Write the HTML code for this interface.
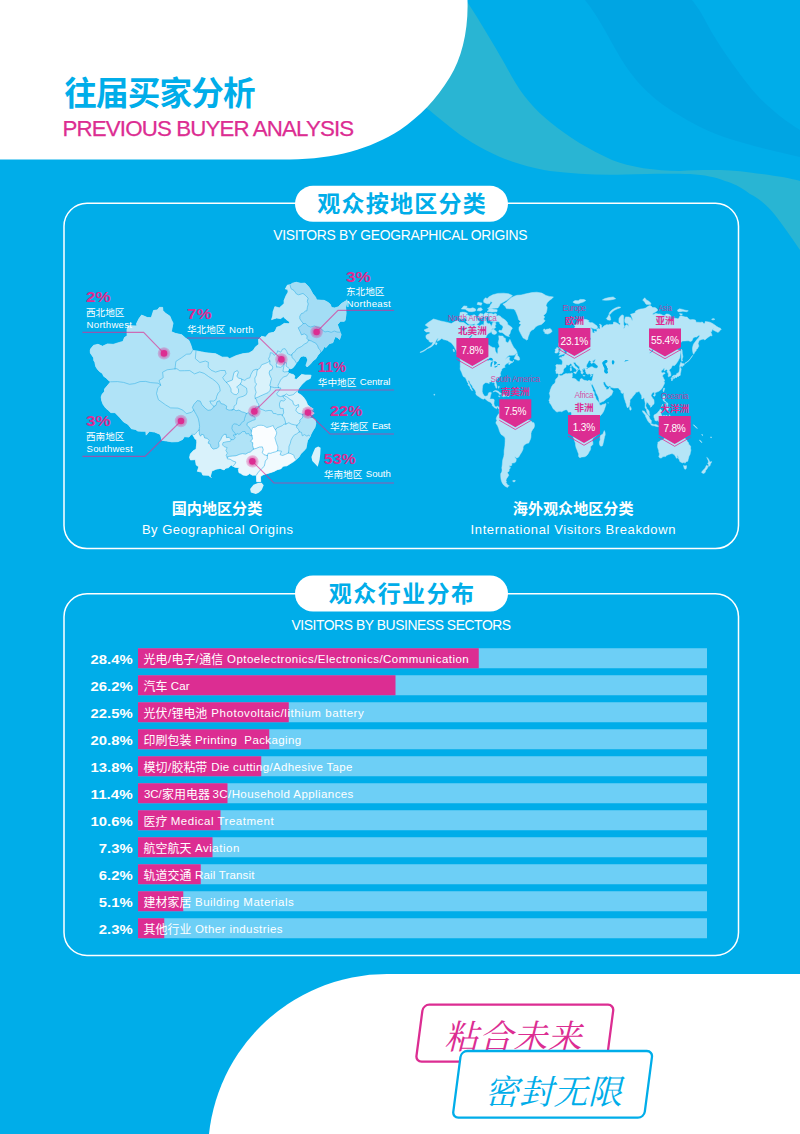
<!DOCTYPE html>
<html lang="zh"><head><meta charset="utf-8"><title>往届买家分析 Previous Buyer Analysis</title>
<style>
html,body{margin:0;padding:0;background:#00ade9;}
body{width:800px;height:1134px;overflow:hidden;font-family:"Liberation Sans","Noto Sans CJK SC",sans-serif;}
svg{display:block;font-family:"Liberation Sans","Noto Sans CJK SC",sans-serif;}
</style></head><body>
<svg width="800" height="1134" viewBox="0 0 800 1134">
<rect width="800" height="1134" fill="#00ade9"/>
<path fill="#00a5e3" d="M585,0 C600,18 612,45 625,65 C645,95 668,110 700,127 C725,140 770,150 800,157 L800,130 C780,118 760,100 750,87 C735,68 715,40 705,20 C700,10 695,4 692,0 Z"/>
<path fill="#29b5d3" d="M466,0 C474,12 480,22 486,32 C497,50 506,66 512,77 C522,95 535,110 550,122 C568,137 590,150 612,160 C630,167 655,171 680,171 C700,170 725,169 750,172.5 C770,175 790,178 800,181 L800,250 C792,238 784,227 775,215 C766,204 758,198 750,194 C740,186 732,183 725,181 C715,177 705,175 690,174 C675,173.5 650,173.5 625,174.5 C600,175.5 575,174 550,171 C530,168 515,163 500,157 C480,148 462,137 450,127 C440,119 432,112 425,107 Z"/>
<path fill="#fff" d="M0,0 H467.5 C468.5,30 462,58 450,77 C436,100 420,116 400,130 C370,149 335,159 290,159.5 H0 Z"/>
<path fill="#fff" d="M800,974 H387 A179,179 0 0 0 208,1153 H800 Z"/>
<text x="64.3" y="104.6" font-size="32.6" font-weight="700" fill="#00ade9" letter-spacing="-0.85">往届买家分析</text>
<text x="62.60" y="136.20" font-size="22.30" fill="#dc2d92" letter-spacing="-0.865" stroke="#dc2d92" stroke-width="0.25">PREVIOUS BUYER ANALYSIS</text>
<rect x="64" y="203.2" width="674.5" height="345.40000000000003" rx="23" ry="23" fill="none" stroke="#fff" stroke-width="1.5"/>
<rect x="64" y="593.8" width="674.5" height="361.6" rx="23" ry="23" fill="none" stroke="#fff" stroke-width="1.5"/>
<rect x="295" y="185.8" width="213" height="36" rx="18" fill="#fff"/>
<text x="317.19" y="211.97" font-size="23" font-weight="700" fill="#00ade9" letter-spacing="1.24">观众按地区分类</text>
<rect x="295" y="575.5" width="213" height="36" rx="18" fill="#fff"/>
<text x="328.84" y="601.66" font-size="23" font-weight="700" fill="#00ade9" letter-spacing="1.43">观众行业分布</text>
<text x="273.30" y="240.10" font-size="13.90" fill="#fff" letter-spacing="-0.304" >VISITORS BY GEOGRAPHICAL ORIGINS</text>
<text x="291.50" y="630.10" font-size="13.90" fill="#fff" letter-spacing="-0.444" >VISITORS BY BUSINESS SECTORS</text>
<g id="china"><path fill="#bde8f8" stroke="#bde8f8" stroke-width="0.6" stroke-linejoin="round" d="M90.6,349.1L93.5,345.4L98.0,344.3L102.5,346.3L107.4,344.0L113.2,344.4L119.6,342.4L123.0,341.5L124.5,337.6L127.2,335.8L127.0,329.7L128.4,325.8L136.9,326.0L136.6,323.5L139.0,318.7L141.6,315.1L147.2,317.5L151.3,317.7L153.6,310.5L157.3,310.0L159.4,307.4L162.6,307.4L162.8,310.4L165.2,313.1L169.9,316.2L171.4,319.9L173.0,323.1L171.3,331.7L175.7,333.5L181.8,334.8L185.6,338.2L188.8,340.3L190.9,345.2L192.5,350.6L196.0,350.9L201.5,351.9L205.8,352.8L215.7,353.8L222.2,357.2L227.4,357.2L229.6,358.7L236.1,355.7L242.6,353.8L249.1,353.0L253.3,350.4L255.2,347.3L258.9,344.2L258.5,339.5L261.7,336.3L265.5,337.2L268.9,333.3L273.8,332.3L275.6,330.3L276.9,327.2L280.1,326.2L284.2,323.4L289.2,323.8L289.8,322.0L285.7,319.1L283.3,316.5L280.7,318.5L276.6,317.9L271.6,319.6L272.8,316.0L273.1,311.9L274.9,306.7L279.3,307.9L282.1,305.5L284.2,303.5L284.1,300.6L286.1,295.7L288.2,292.0L287.7,289.2L285.4,289.0L287.4,285.2L290.0,284.8L292.7,283.2L296.2,282.3L300.9,283.4L305.0,283.2L308.4,286.5L310.1,289.0L312.7,293.7L315.5,297.2L316.6,299.9L321.0,300.3L324.3,300.4L328.1,302.5L330.2,304.3L331.5,307.6L334.5,308.0L338.3,306.9L341.5,303.6L345.7,301.1L347.0,299.8L346.4,304.6L345.6,307.3L346.1,313.2L345.2,320.1L344.3,321.3L340.3,321.2L338.7,323.2L337.4,324.7L338.9,328.6L340.1,332.2L341.1,334.7L339.6,339.4L337.4,337.5L335.3,336.5L333.6,340.3L332.9,342.6L329.1,343.8L326.0,347.5L324.4,346.4L322.5,350.1L320.5,352.3L317.8,355.3L315.8,358.7L313.0,360.7L310.6,363.8L308.4,365.8L307.0,366.9L306.0,365.3L306.6,363.4L307.8,359.9L306.3,356.5L303.3,356.0L300.9,356.5L299.4,358.7L297.7,361.5L296.3,362.9L294.7,365.6L292.7,367.9L291.0,368.8L289.1,368.4L288.4,369.7L287.7,371.6L288.7,373.3L291.3,374.1L293.2,374.5L294.8,376.0L294.1,378.8L296.3,379.4L298.3,377.6L301.6,374.4L305.0,375.1L308.7,375.1L311.1,375.3L310.2,378.4L306.3,380.3L303.8,382.5L301.4,385.0L298.6,388.7L297.5,391.2L297.6,393.0L301.0,394.9L303.3,397.0L305.9,400.8L307.5,404.7L310.4,407.2L313.2,408.9L310.7,410.5L314.2,413.2L311.3,415.5L309.7,417.8L312.8,418.5L315.1,419.6L315.8,423.7L314.9,427.4L312.4,431.4L310.8,434.6L310.3,436.4L307.5,440.4L306.9,443.5L306.0,448.3L303.7,451.0L300.8,453.7L299.0,456.9L296.1,459.6L293.6,461.6L286.9,465.8L283.0,466.2L281.0,468.7L277.2,469.7L274.0,471.4L268.6,473.2L263.1,474.7L260.4,476.6L260.7,481.7L256.7,481.7L256.4,475.1L252.5,475.2L249.6,473.6L248.0,474.8L246.4,475.5L243.0,475.0L240.7,473.3L239.0,472.7L238.4,469.3L239.5,467.8L235.1,467.3L232.9,466.2L231.2,465.0L228.5,467.6L225.7,468.2L224.1,469.9L220.2,468.4L215.8,469.2L213.8,470.3L211.9,470.8L210.3,476.5L211.4,477.4L208.4,475.3L202.8,475.1L201.6,472.1L197.4,471.3L198.8,466.8L196.2,464.9L195.4,459.6L190.5,459.9L189.6,457.5L190.4,454.0L193.3,450.7L196.1,449.2L196.8,442.8L196.7,439.8L195.2,439.1L192.9,434.9L191.9,434.2L190.2,435.3L189.0,437.0L184.4,436.6L182.6,439.4L178.1,441.6L171.7,441.8L166.5,440.9L161.8,440.3L161.2,437.0L160.0,434.2L154.6,432.0L149.4,431.2L146.2,435.1L145.8,431.2L142.1,431.2L137.4,431.0L136.0,429.5L131.4,428.7L128.1,424.4L123.4,421.7L119.6,417.3L115.0,412.6L110.8,412.6L108.7,410.5L105.7,408.0L103.1,404.3L101.7,400.6L101.2,397.0L102.2,394.2L104.4,391.8L104.6,389.1L107.7,385.3L110.7,381.8L108.5,380.3L106.2,378.0L103.7,376.2L102.5,373.5L99.3,371.3L97.3,368.9L95.8,366.6L94.9,362.3L93.8,360.4L93.7,357.9L92.1,355.5L90.4,353.1L90.3,350.6Z"/><path fill="#b0e3f7" stroke="#b0e3f7" stroke-width="0.4" stroke-linejoin="round" d="M90.6,349.1L93.5,345.4L98.0,344.3L102.5,346.3L107.4,344.0L113.2,344.4L119.6,342.4L123.0,341.5L124.5,337.6L127.2,335.8L127.0,329.7L128.4,325.8L136.9,326.0L136.6,323.5L139.0,318.7L141.6,315.1L147.2,317.5L151.3,317.7L153.6,310.5L157.3,310.0L159.4,307.4L162.6,307.4L162.8,310.4L165.2,313.1L169.9,316.2L171.4,319.9L173.0,323.1L171.3,331.7L175.7,333.5L181.8,334.8L185.6,338.2L188.8,340.3L190.9,345.2L192.5,350.6L190.5,354.0L186.5,354.2L181.3,357.9L175.9,361.4L175.0,368.8L167.1,369.8L162.6,372.2L163.2,377.7L159.0,380.6L160.7,385.1L158.1,383.2L150.6,382.6L145.6,381.4L140.0,381.6L134.6,383.6L129.5,384.3L123.6,382.4L117.5,381.6L110.7,381.8L108.5,380.3L106.2,378.0L103.7,376.2L102.5,373.5L99.3,371.3L97.3,368.9L95.8,366.6L94.9,362.3L93.8,360.4L93.7,357.9L92.1,355.5L90.4,353.1L90.3,350.6Z"/><path fill="#b0e3f7" stroke="#b0e3f7" stroke-width="0.4" stroke-linejoin="round" d="M191.9,434.2L190.2,435.3L189.0,437.0L184.4,436.6L182.6,439.4L178.1,441.6L171.7,441.8L166.5,440.9L161.8,440.3L161.2,437.0L160.0,434.2L154.6,432.0L149.4,431.2L146.2,435.1L145.8,431.2L142.1,431.2L137.4,431.0L136.0,429.5L131.4,428.7L128.1,424.4L123.4,421.7L119.6,417.3L115.0,412.6L110.8,412.6L108.7,410.5L105.7,408.0L103.1,404.3L101.7,400.6L101.2,397.0L102.2,394.2L104.4,391.8L104.6,389.1L107.7,385.3L110.7,381.8L117.5,381.6L123.6,382.4L129.5,384.3L134.6,383.6L140.0,381.6L145.6,381.4L150.6,382.6L158.1,383.2L160.7,385.1L157.9,387.7L156.5,393.5L158.4,399.7L165.6,404.9L170.6,407.9L178.0,408.1L182.8,410.1L186.4,413.7L191.5,412.3L193.7,410.1L196.3,414.5L198.1,418.1L199.1,422.3L199.6,426.5L199.1,430.0L197.2,431.6L195.0,434.4Z"/><path fill="#bde8f8" stroke="#bde8f8" stroke-width="0.4" stroke-linejoin="round" d="M160.7,385.1L159.0,380.6L163.2,377.7L162.6,372.2L167.1,369.8L175.0,368.8L176.9,368.7L179.8,370.8L184.4,370.7L189.8,370.6L194.6,373.9L199.7,371.9L204.2,373.4L208.6,376.6L212.6,379.1L216.6,382.2L218.9,385.2L219.8,388.2L220.2,391.2L218.2,392.9L216.7,396.4L216.1,399.4L213.7,401.1L209.8,401.0L211.2,404.0L214.0,406.4L213.0,407.9L210.9,409.9L208.0,410.4L205.1,408.2L201.9,404.7L200.2,401.1L197.3,400.6L194.1,404.2L192.4,407.4L193.7,410.1L191.5,412.3L186.4,413.7L182.8,410.1L178.0,408.1L170.6,407.9L165.6,404.9L158.4,399.7L156.5,393.5L157.9,387.7Z"/><path fill="#bde8f8" stroke="#bde8f8" stroke-width="0.4" stroke-linejoin="round" d="M192.5,350.6L196.0,350.9L195.3,358.6L199.9,362.5L205.3,361.0L208.4,362.3L208.1,367.1L211.1,370.2L215.6,372.1L220.6,370.5L225.1,370.5L226.0,373.5L222.7,377.6L224.1,380.0L226.4,382.4L229.1,385.4L231.0,388.9L231.0,391.9L233.9,394.2L236.3,394.8L238.6,392.4L238.5,388.8L236.6,387.1L240.3,384.0L243.1,385.8L246.5,388.0L247.1,392.1L246.2,394.6L243.0,396.4L240.1,397.1L237.3,398.3L236.8,401.3L236.4,404.3L234.0,406.1L234.0,408.4L232.1,409.9L229.1,410.2L226.2,409.0L226.7,406.1L223.8,404.3L220.9,403.6L219.5,400.7L217.0,401.8L216.0,405.3L214.0,406.4L211.2,404.0L209.8,401.0L213.7,401.1L216.1,399.4L216.7,396.4L218.2,392.9L220.2,391.2L219.8,388.2L218.9,385.2L216.6,382.2L212.6,379.1L208.6,376.6L204.2,373.4L199.7,371.9L194.6,373.9L189.8,370.6L184.4,370.7L179.8,370.8L176.9,368.7L175.0,368.8L175.9,361.4L181.3,357.9L186.5,354.2L190.5,354.0Z"/><path fill="#d9f2fb" stroke="#d9f2fb" stroke-width="0.4" stroke-linejoin="round" d="M240.3,384.0L236.6,387.1L238.5,388.8L238.6,392.4L236.3,394.8L233.9,394.2L231.0,391.9L231.0,388.9L229.1,385.4L226.4,382.4L229.1,381.2L232.4,380.0L233.2,375.9L234.1,372.3L237.3,370.5L238.4,372.2L236.9,376.4L238.8,378.2L241.1,378.7L241.8,379.3L241.6,381.6Z"/><path fill="#bde8f8" stroke="#bde8f8" stroke-width="0.4" stroke-linejoin="round" d="M196.0,350.9L201.5,351.9L205.8,352.8L215.7,353.8L222.2,357.2L227.4,357.2L229.6,358.7L236.1,355.7L242.6,353.8L249.1,353.0L253.3,350.4L255.2,347.3L258.9,344.2L258.5,339.5L261.7,336.3L265.5,337.2L268.9,333.3L273.8,332.3L275.6,330.3L276.9,327.2L280.1,326.2L284.2,323.4L289.2,323.8L289.8,322.0L285.7,319.1L283.3,316.5L280.7,318.5L276.6,317.9L271.6,319.6L272.8,316.0L273.1,311.9L274.9,306.7L279.3,307.9L282.1,305.5L284.2,303.5L284.1,300.6L286.1,295.7L288.2,292.0L287.7,289.2L285.4,289.0L287.4,285.2L290.0,284.8L291.0,288.7L294.0,290.5L296.5,294.0L298.6,294.8L303.0,293.4L305.3,295.3L308.2,298.2L307.3,301.3L308.3,304.0L307.4,307.2L306.9,310.8L305.3,311.1L303.3,313.0L301.4,313.6L299.8,316.2L299.8,318.6L301.1,320.7L303.3,323.6L302.2,324.7L300.8,326.1L298.2,327.8L300.1,331.6L301.5,334.9L304.3,333.8L307.2,335.7L306.9,338.4L308.6,340.2L307.3,342.6L304.1,344.3L301.4,346.6L298.6,347.9L296.2,349.5L294.8,351.8L292.8,353.0L291.7,354.9L290.4,355.1L287.6,353.7L286.8,351.4L285.1,348.7L282.6,349.0L280.8,352.2L277.6,350.8L277.0,353.2L274.1,355.3L272.6,353.1L270.4,352.7L269.8,356.3L268.5,358.8L269.8,361.0L267.7,362.4L265.1,363.5L261.7,364.7L259.7,368.4L257.3,369.7L256.1,369.2L253.1,370.5L251.0,374.2L249.8,377.8L247.0,378.5L244.8,380.4L241.8,379.3L241.1,378.7L238.8,378.2L236.9,376.4L238.4,372.2L237.3,370.5L234.1,372.3L233.2,375.9L232.4,380.0L229.1,381.2L226.4,382.4L224.1,380.0L222.7,377.6L226.0,373.5L225.1,370.5L220.6,370.5L215.6,372.1L211.1,370.2L208.1,367.1L208.4,362.3L205.3,361.0L199.9,362.5L195.3,358.6Z"/><path fill="#cbedfa" stroke="#cbedfa" stroke-width="0.4" stroke-linejoin="round" d="M232.1,409.9L234.0,408.4L234.0,406.1L236.4,404.3L236.8,401.3L237.3,398.3L240.1,397.1L243.0,396.4L246.2,394.6L247.1,392.1L246.5,388.0L243.1,385.8L240.3,384.0L241.6,381.6L241.8,379.3L244.8,380.4L247.0,378.5L249.8,377.8L251.0,374.2L253.1,370.5L256.1,369.2L257.3,369.7L256.8,372.1L256.5,375.1L254.8,378.2L255.1,382.3L256.6,384.0L254.9,387.1L255.2,389.1L256.1,392.3L254.9,396.0L255.3,398.3L256.6,400.0L257.2,402.4L258.7,404.0L258.9,406.4L255.5,407.2L254.9,410.2L251.8,411.5L253.4,414.1L252.5,415.5L251.0,415.1L248.4,412.8L246.4,413.5L244.4,412.4L241.9,411.9L238.9,410.1L236.0,410.8L234.0,409.3Z"/><path fill="#d9f2fb" stroke="#d9f2fb" stroke-width="0.4" stroke-linejoin="round" d="M255.3,398.3L254.9,396.0L256.1,392.3L255.2,389.1L254.9,387.1L256.6,384.0L255.1,382.3L254.8,378.2L256.5,375.1L256.8,372.1L257.3,369.7L259.7,368.4L261.7,364.7L265.1,363.5L267.7,362.4L269.8,361.0L269.9,364.3L272.1,365.6L272.7,367.6L272.0,369.8L269.8,370.6L269.1,373.0L270.1,375.9L271.5,378.7L270.8,381.2L270.3,383.6L269.8,385.4L270.6,386.8L270.2,390.2L268.0,392.7L265.3,393.8L262.9,394.9L260.6,395.9L258.3,397.0Z"/><path fill="#bde8f8" stroke="#bde8f8" stroke-width="0.4" stroke-linejoin="round" d="M296.3,362.9L294.7,365.6L292.7,367.9L291.0,368.8L289.1,368.4L286.1,366.1L286.6,362.8L284.7,362.1L284.7,362.3L283.5,359.6L279.7,358.0L277.4,361.5L276.2,364.6L276.7,366.9L278.5,367.0L280.4,367.4L282.5,366.3L284.6,362.7L284.0,365.5L283.3,369.2L282.9,371.3L284.6,372.0L287.7,371.6L288.7,373.3L286.9,375.9L283.8,376.9L281.7,378.6L280.5,380.2L279.3,382.7L278.0,385.3L278.5,387.6L276.6,387.5L274.7,387.7L272.8,387.2L270.6,386.8L269.8,385.4L270.3,383.6L270.8,381.2L271.5,378.7L270.1,375.9L269.1,373.0L269.8,370.6L272.0,369.8L272.7,367.6L272.1,365.6L269.9,364.3L269.8,361.0L268.5,358.8L269.8,356.3L270.4,352.7L272.6,353.1L274.1,355.3L277.0,353.2L277.6,350.8L280.8,352.2L282.6,349.0L285.1,348.7L286.8,351.4L287.6,353.7L290.4,355.1L291.7,354.9L292.2,357.9L294.2,359.4Z"/><path fill="#cbedfa" stroke="#cbedfa" stroke-width="0.4" stroke-linejoin="round" d="M276.7,366.9L276.2,364.6L277.4,361.5L279.7,358.0L283.5,359.6L284.7,362.3L284.6,362.7L282.5,366.3L280.4,367.4L278.5,367.0Z"/><path fill="#cbedfa" stroke="#cbedfa" stroke-width="0.4" stroke-linejoin="round" d="M289.1,368.4L288.4,369.7L287.7,371.6L284.6,372.0L282.9,371.3L283.3,369.2L284.0,365.5L284.6,362.7L284.7,362.4L284.7,362.3L284.7,362.1L286.6,362.8L286.1,366.1Z"/><path fill="#cbedfa" stroke="#cbedfa" stroke-width="0.4" stroke-linejoin="round" d="M288.7,373.3L291.3,374.1L293.2,374.5L294.8,376.0L294.1,378.8L296.3,379.4L298.3,377.6L301.6,374.4L305.0,375.1L308.7,375.1L311.1,375.3L310.2,378.4L306.3,380.3L303.8,382.5L301.4,385.0L298.6,388.7L297.5,391.2L295.7,392.1L294.1,394.1L292.3,394.9L289.0,395.6L286.3,393.9L284.1,395.6L283.0,396.0L280.4,396.6L277.9,395.7L276.7,393.7L278.4,391.5L280.9,388.2L278.5,387.6L278.0,385.3L279.3,382.7L280.5,380.2L281.7,378.6L283.8,376.9L286.9,375.9Z"/><path fill="#bde8f8" stroke="#bde8f8" stroke-width="0.4" stroke-linejoin="round" d="M258.9,406.4L258.7,404.0L257.2,402.4L256.6,400.0L255.3,398.3L258.3,397.0L260.6,395.9L262.9,394.9L265.3,393.8L268.0,392.7L270.2,390.2L270.6,386.8L272.8,387.2L274.7,387.7L276.6,387.5L278.5,387.6L280.9,388.2L278.4,391.5L276.7,393.7L277.9,395.7L280.4,396.6L283.0,396.0L283.4,397.5L285.6,399.3L283.8,401.0L280.8,400.5L279.6,403.0L279.4,405.1L280.2,408.3L283.2,408.5L283.7,412.9L282.4,415.1L280.3,414.5L277.4,414.8L276.3,413.7L273.2,413.4L272.0,410.8L269.0,410.4L265.6,411.0L262.5,409.7L260.3,409.0Z"/><path fill="#b0e3f7" stroke="#b0e3f7" stroke-width="0.4" stroke-linejoin="round" d="M320.5,352.3L317.8,355.3L315.8,358.7L313.0,360.7L310.6,363.8L308.4,365.8L307.0,366.9L306.0,365.3L306.6,363.4L307.8,359.9L306.3,356.5L303.3,356.0L300.9,356.5L299.4,358.7L297.7,361.5L296.3,362.9L294.2,359.4L292.2,357.9L291.7,354.9L292.8,353.0L294.8,351.8L296.2,349.5L298.6,347.9L301.4,346.6L304.1,344.3L307.3,342.6L308.6,340.2L311.3,340.9L312.8,341.8L315.7,343.1L317.6,345.7L318.6,348.5L320.3,350.0Z"/><path fill="#9fd9f4" stroke="#9fd9f4" stroke-width="0.4" stroke-linejoin="round" d="M340.1,332.2L341.1,334.7L339.6,339.4L337.4,337.5L335.3,336.5L333.6,340.3L332.9,342.6L329.1,343.8L326.0,347.5L324.4,346.4L322.5,350.1L320.5,352.3L320.3,350.0L318.6,348.5L317.6,345.7L315.7,343.1L312.8,341.8L311.3,340.9L308.6,340.2L306.9,338.4L307.2,335.7L304.3,333.8L301.5,334.9L300.1,331.6L298.2,327.8L300.8,326.1L302.2,324.7L303.3,323.6L305.7,323.5L307.9,326.0L310.6,327.0L314.6,325.9L317.5,327.4L320.2,328.0L321.9,329.7L325.0,332.0L327.9,331.3L331.2,332.4L334.3,331.0L337.2,332.1Z"/><path fill="#a3ddf5" stroke="#a3ddf5" stroke-width="0.4" stroke-linejoin="round" d="M290.0,284.8L292.7,283.2L296.2,282.3L300.9,283.4L305.0,283.2L308.4,286.5L310.1,289.0L312.7,293.7L315.5,297.2L316.6,299.9L321.0,300.3L324.3,300.4L328.1,302.5L330.2,304.3L331.5,307.6L334.5,308.0L338.3,306.9L341.5,303.6L345.7,301.1L347.0,299.8L346.4,304.6L345.6,307.3L346.1,313.2L345.2,320.1L344.3,321.3L340.3,321.2L338.7,323.2L337.4,324.7L338.9,328.6L340.1,332.2L337.2,332.1L334.3,331.0L331.2,332.4L327.9,331.3L325.0,332.0L321.9,329.7L320.2,328.0L317.5,327.4L314.6,325.9L310.6,327.0L307.9,326.0L305.7,323.5L303.3,323.6L301.1,320.7L299.8,318.6L299.8,316.2L301.4,313.6L303.3,313.0L305.3,311.1L306.9,310.8L307.4,307.2L308.3,304.0L307.3,301.3L308.2,298.2L305.3,295.3L303.0,293.4L298.6,294.8L296.5,294.0L294.0,290.5L291.0,288.7Z"/><path fill="#d9f2fb" stroke="#d9f2fb" stroke-width="0.4" stroke-linejoin="round" d="M297.5,391.2L297.6,393.0L301.0,394.9L303.3,397.0L305.9,400.8L307.5,404.7L310.4,407.2L313.2,408.9L310.7,410.5L309.7,412.1L309.0,414.0L307.1,414.9L306.1,414.5L304.2,413.9L302.5,414.4L300.4,413.8L298.3,413.2L295.9,410.6L296.5,408.1L298.8,406.6L298.5,404.5L295.7,405.8L293.5,404.3L292.6,400.9L290.0,399.4L287.2,397.1L284.1,395.6L286.3,393.9L289.0,395.6L292.3,394.9L294.1,394.1L295.7,392.1Z"/><path fill="#d9f2fb" stroke="#d9f2fb" stroke-width="0.4" stroke-linejoin="round" d="M310.7,410.5L314.2,413.2L311.3,415.5L309.7,414.8L309.0,414.0L309.7,412.1Z"/><path fill="#cbedfa" stroke="#cbedfa" stroke-width="0.4" stroke-linejoin="round" d="M283.0,396.0L284.1,395.6L287.2,397.1L290.0,399.4L292.6,400.9L293.5,404.3L295.7,405.8L298.5,404.5L298.8,406.6L296.5,408.1L295.9,410.6L298.3,413.2L300.4,413.8L302.5,414.4L302.9,417.0L301.4,418.8L299.8,420.2L300.0,421.9L298.3,424.2L296.9,425.3L294.3,424.8L291.1,424.0L288.9,422.7L285.9,424.0L285.1,420.8L284.2,417.9L283.1,416.6L282.4,415.1L283.7,412.9L283.2,408.5L280.2,408.3L279.4,405.1L279.6,403.0L280.8,400.5L283.8,401.0L285.6,399.3L283.4,397.5Z"/><path fill="#b0e3f7" stroke="#b0e3f7" stroke-width="0.4" stroke-linejoin="round" d="M311.3,415.5L309.7,417.8L312.8,418.5L315.1,419.6L315.8,423.7L314.9,427.4L312.4,431.4L310.8,434.6L310.3,436.4L308.8,435.2L306.8,436.1L304.5,434.6L302.3,435.8L301.5,432.4L299.4,431.8L298.5,429.5L296.4,427.2L296.9,425.3L298.3,424.2L300.0,421.9L299.8,420.2L301.4,418.8L302.9,417.0L302.5,414.4L304.2,413.9L306.1,414.5L307.1,414.9L309.0,414.0L309.7,414.8Z"/><path fill="#bde8f8" stroke="#bde8f8" stroke-width="0.4" stroke-linejoin="round" d="M310.3,436.4L307.5,440.4L306.9,443.5L306.0,448.3L303.7,451.0L300.8,453.7L299.0,456.9L296.1,459.6L294.4,457.4L293.9,455.2L291.0,453.7L288.4,452.9L288.9,449.9L289.0,446.3L290.3,443.3L291.0,440.2L292.7,437.1L294.5,434.8L296.5,434.0L299.4,431.8L301.5,432.4L302.3,435.8L304.5,434.6L306.8,436.1L308.8,435.2Z"/><path fill="#cbedfa" stroke="#cbedfa" stroke-width="0.4" stroke-linejoin="round" d="M285.9,424.0L288.9,422.7L291.1,424.0L294.3,424.8L296.9,425.3L296.4,427.2L298.5,429.5L299.4,431.8L296.5,434.0L294.5,434.8L292.7,437.1L291.0,440.2L290.3,443.3L289.0,446.3L288.9,449.9L288.4,452.9L285.6,454.3L282.5,455.5L280.0,454.6L281.5,451.2L277.7,450.7L277.9,446.9L276.8,444.0L275.7,440.6L274.9,437.7L276.0,435.3L276.8,432.9L275.5,429.7L277.1,427.8L280.1,426.6L282.5,425.5L283.9,424.2Z"/><path fill="#bde8f8" stroke="#bde8f8" stroke-width="0.4" stroke-linejoin="round" d="M252.5,415.5L253.4,414.1L251.8,411.5L254.9,410.2L255.5,407.2L258.9,406.4L260.3,409.0L262.5,409.7L265.6,411.0L269.0,410.4L272.0,410.8L273.2,413.4L276.3,413.7L277.4,414.8L280.3,414.5L282.4,415.1L283.1,416.6L284.2,417.9L285.1,420.8L285.9,424.0L283.9,424.2L282.5,425.5L280.1,426.6L277.1,427.8L275.5,429.7L274.0,427.8L273.3,425.5L269.8,426.7L266.8,427.5L263.6,425.6L261.1,425.2L258.0,425.4L255.6,427.0L252.5,427.7L251.4,431.0L250.3,429.3L248.9,427.0L246.8,425.3L247.3,422.9L250.2,421.6L252.7,420.3L255.2,419.6L255.1,417.3Z"/><path fill="#fafdff" stroke="#fafdff" stroke-width="0.4" stroke-linejoin="round" d="M275.5,429.7L276.8,432.9L276.0,435.3L274.9,437.7L275.7,440.6L276.8,444.0L277.9,446.9L277.7,450.7L275.6,451.8L272.5,452.6L270.9,453.3L268.2,453.2L267.3,455.6L264.0,454.7L262.3,452.7L263.2,449.8L262.4,446.9L259.3,447.1L256.2,448.4L253.5,449.1L252.6,445.6L252.7,442.7L250.5,441.3L252.5,438.9L251.9,435.7L251.2,433.4L251.4,431.0L252.5,427.7L255.6,427.0L258.0,425.4L261.1,425.2L263.6,425.6L266.8,427.5L269.8,426.7L273.3,425.5L274.0,427.8Z"/><path fill="#f1fafe" stroke="#f1fafe" stroke-width="0.4" stroke-linejoin="round" d="M296.1,459.6L293.6,461.6L286.9,465.8L283.0,466.2L281.0,468.7L277.2,469.7L274.0,471.4L268.6,473.2L263.1,474.7L260.4,476.6L260.7,481.7L256.7,481.7L256.4,475.1L257.7,473.0L259.5,470.9L261.4,469.0L264.2,466.3L264.9,463.6L265.3,461.0L267.3,458.8L267.3,455.6L268.2,453.2L270.9,453.3L272.5,452.6L275.6,451.8L277.7,450.7L281.5,451.2L280.0,454.6L282.5,455.5L285.6,454.3L288.4,452.9L291.0,453.7L293.9,455.2L294.4,457.4Z"/><path fill="#eaf7fd" stroke="#eaf7fd" stroke-width="0.4" stroke-linejoin="round" d="M256.4,475.1L252.5,475.2L249.6,473.6L248.0,474.8L246.4,475.5L243.0,475.0L240.7,473.3L239.0,472.7L238.4,469.3L239.5,467.8L235.1,467.3L232.9,466.2L234.8,464.4L235.9,462.1L232.9,461.0L230.1,459.2L227.4,458.9L227.2,457.2L229.6,456.3L232.3,456.0L236.1,455.7L239.8,454.2L242.5,453.6L245.7,454.1L248.3,452.5L250.4,451.9L253.5,449.1L256.2,448.4L259.3,447.1L262.4,446.9L263.2,449.8L262.3,452.7L264.0,454.7L267.3,455.6L267.3,458.8L265.3,461.0L264.9,463.6L264.2,466.3L261.4,469.0L259.5,470.9L257.7,473.0Z"/><path fill="#b0e3f7" stroke="#b0e3f7" stroke-width="0.4" stroke-linejoin="round" d="M251.9,435.7L252.5,438.9L250.5,441.3L252.7,442.7L252.6,445.6L253.5,449.1L250.4,451.9L248.3,452.5L245.7,454.1L242.5,453.6L239.8,454.2L236.1,455.7L232.3,456.0L229.6,456.3L227.2,457.2L226.1,455.2L227.5,453.1L225.9,450.5L227.2,447.6L224.3,446.7L222.5,444.9L223.0,442.6L227.0,441.7L230.4,441.4L231.2,439.6L233.3,439.7L235.3,437.9L233.2,435.0L235.8,434.7L237.3,433.5L238.9,434.3L240.9,433.1L242.4,431.6L245.0,431.5L246.1,433.9L248.7,433.5L249.8,435.5Z"/><path fill="#d9f2fb" stroke="#d9f2fb" stroke-width="0.4" stroke-linejoin="round" d="M232.9,466.2L231.2,465.0L228.5,467.6L225.7,468.2L224.1,469.9L220.2,468.4L215.8,469.2L213.8,470.3L211.9,470.8L210.3,476.5L211.4,477.4L208.4,475.3L202.8,475.1L201.6,472.1L197.4,471.3L198.8,466.8L196.2,464.9L195.4,459.6L190.5,459.9L189.6,457.5L190.4,454.0L193.3,450.7L196.1,449.2L196.8,442.8L196.7,439.8L195.2,439.1L192.9,434.9L191.9,434.2L195.0,434.4L197.2,431.6L199.1,430.0L199.4,434.1L200.6,436.2L201.7,434.2L203.7,434.9L204.6,437.9L207.2,438.3L209.2,440.5L208.1,443.1L210.1,444.0L211.1,447.0L213.1,449.1L216.9,448.3L219.0,446.6L218.6,442.5L220.7,439.6L222.1,436.4L224.2,434.4L226.2,434.4L226.5,437.6L229.1,437.3L231.2,439.6L230.4,441.4L227.0,441.7L223.0,442.6L222.5,444.9L224.3,446.7L227.2,447.6L225.9,450.5L227.5,453.1L226.1,455.2L227.2,457.2L227.4,458.9L230.1,459.2L232.9,461.0L235.9,462.1L234.8,464.4Z"/><path fill="#a3ddf5" stroke="#a3ddf5" stroke-width="0.4" stroke-linejoin="round" d="M199.1,430.0L199.6,426.5L199.1,422.3L198.1,418.1L196.3,414.5L193.7,410.1L192.4,407.4L194.1,404.2L197.3,400.6L200.2,401.1L201.9,404.7L205.1,408.2L208.0,410.4L210.9,409.9L213.0,407.9L214.0,406.4L216.0,405.3L217.0,401.8L219.5,400.7L220.9,403.6L223.8,404.3L226.7,406.1L226.2,409.0L229.1,410.2L232.1,409.9L234.0,409.3L236.0,410.8L238.9,410.1L241.9,411.9L244.4,412.4L246.4,413.5L245.5,415.9L244.6,418.3L244.2,421.0L241.7,422.5L240.2,425.2L238.2,425.5L237.2,424.3L234.1,423.8L232.4,425.3L231.9,428.5L233.2,431.5L234.5,432.3L235.8,434.7L233.2,435.0L235.3,437.9L233.3,439.7L231.2,439.6L229.1,437.3L226.5,437.6L226.2,434.4L224.2,434.4L222.1,436.4L220.7,439.6L218.6,442.5L219.0,446.6L216.9,448.3L213.1,449.1L211.1,447.0L210.1,444.0L208.1,443.1L209.2,440.5L207.2,438.3L204.6,437.9L203.7,434.9L201.7,434.2L200.6,436.2L199.4,434.1Z"/><path fill="#a3ddf5" stroke="#a3ddf5" stroke-width="0.4" stroke-linejoin="round" d="M246.4,413.5L248.4,412.8L251.0,415.1L252.5,415.5L255.1,417.3L255.2,419.6L252.7,420.3L250.2,421.6L247.3,422.9L246.8,425.3L248.9,427.0L250.3,429.3L251.4,431.0L251.2,433.4L251.9,435.7L249.8,435.5L248.7,433.5L246.1,433.9L245.0,431.5L242.4,431.6L240.9,433.1L238.9,434.3L237.3,433.5L235.8,434.7L234.5,432.3L233.2,431.5L231.9,428.5L232.4,425.3L234.1,423.8L237.2,424.3L238.2,425.5L240.2,425.2L241.7,422.5L244.2,421.0L244.6,418.3L245.5,415.9Z"/><path fill="#d9f2fb" d="M250.5,488.5L253.5,484.7L257.9,483.0L261.6,482.8L263.7,485.3L261.7,490.0L258.7,492.7L255.9,494.0L250.9,492.5L250.2,489.6Z"/><path fill="#d9f2fb" d="M315.2,448.1L318.2,446.4L320.6,447.8L320.3,453.8L319.6,459.7L317.7,466.8L315.7,464.5L312.3,460.9L311.4,456.9L313.4,451.9Z"/><path fill="#d9f2fb" d="M310.3,409.3L313.4,410.0L313.8,410.6L311.5,410.3Z"/><path fill="none" stroke="#3ab4e8" stroke-width="0.6" stroke-linejoin="round" stroke-linecap="round" d="M192.5,350.6L190.5,354.0L186.5,354.2L181.3,357.9L175.9,361.4L175.0,368.8M175.0,368.8L167.1,369.8L162.6,372.2L163.2,377.7L159.0,380.6L160.7,385.1M160.7,385.1L158.1,383.2L150.6,382.6L145.6,381.4L140.0,381.6L134.6,383.6L129.5,384.3L123.6,382.4L117.5,381.6L110.7,381.8M160.7,385.1L157.9,387.7L156.5,393.5L158.4,399.7L165.6,404.9L170.6,407.9L178.0,408.1L182.8,410.1L186.4,413.7L191.5,412.3L193.7,410.1M193.7,410.1L196.3,414.5L198.1,418.1L199.1,422.3L199.6,426.5L199.1,430.0M199.1,430.0L197.2,431.6L195.0,434.4L191.9,434.2M193.7,410.1L192.4,407.4L194.1,404.2L197.3,400.6L200.2,401.1L201.9,404.7L205.1,408.2L208.0,410.4L210.9,409.9L213.0,407.9L214.0,406.4M214.0,406.4L211.2,404.0L209.8,401.0L213.7,401.1L216.1,399.4L216.7,396.4L218.2,392.9L220.2,391.2L219.8,388.2L218.9,385.2L216.6,382.2L212.6,379.1L208.6,376.6L204.2,373.4L199.7,371.9L194.6,373.9L189.8,370.6L184.4,370.7L179.8,370.8L176.9,368.7L175.0,368.8M196.0,350.9L195.3,358.6L199.9,362.5L205.3,361.0L208.4,362.3L208.1,367.1L211.1,370.2L215.6,372.1L220.6,370.5L225.1,370.5L226.0,373.5L222.7,377.6L224.1,380.0L226.4,382.4M226.4,382.4L229.1,385.4L231.0,388.9L231.0,391.9L233.9,394.2L236.3,394.8L238.6,392.4L238.5,388.8L236.6,387.1L240.3,384.0M240.3,384.0L243.1,385.8L246.5,388.0L247.1,392.1L246.2,394.6L243.0,396.4L240.1,397.1L237.3,398.3L236.8,401.3L236.4,404.3L234.0,406.1L234.0,408.4L232.1,409.9M232.1,409.9L229.1,410.2L226.2,409.0L226.7,406.1L223.8,404.3L220.9,403.6L219.5,400.7L217.0,401.8L216.0,405.3L214.0,406.4M226.4,382.4L229.1,381.2L232.4,380.0L233.2,375.9L234.1,372.3L237.3,370.5L238.4,372.2L236.9,376.4L238.8,378.2L241.1,378.7L241.8,379.3M241.8,379.3L241.6,381.6L240.3,384.0M241.8,379.3L244.8,380.4L247.0,378.5L249.8,377.8L251.0,374.2L253.1,370.5L256.1,369.2L257.3,369.7M257.3,369.7L256.8,372.1L256.5,375.1L254.8,378.2L255.1,382.3L256.6,384.0L254.9,387.1L255.2,389.1L256.1,392.3L254.9,396.0L255.3,398.3M255.3,398.3L256.6,400.0L257.2,402.4L258.7,404.0L258.9,406.4M258.9,406.4L255.5,407.2L254.9,410.2L251.8,411.5L253.4,414.1L252.5,415.5M252.5,415.5L251.0,415.1L248.4,412.8L246.4,413.5M246.4,413.5L244.4,412.4L241.9,411.9L238.9,410.1L236.0,410.8L234.0,409.3L232.1,409.9M257.3,369.7L259.7,368.4L261.7,364.7L265.1,363.5L267.7,362.4L269.8,361.0M269.8,361.0L269.9,364.3L272.1,365.6L272.7,367.6L272.0,369.8L269.8,370.6L269.1,373.0L270.1,375.9L271.5,378.7L270.8,381.2L270.3,383.6L269.8,385.4L270.6,386.8M270.6,386.8L270.2,390.2L268.0,392.7L265.3,393.8L262.9,394.9L260.6,395.9L258.3,397.0L255.3,398.3M269.8,361.0L268.5,358.8L269.8,356.3L270.4,352.7L272.6,353.1L274.1,355.3L277.0,353.2L277.6,350.8L280.8,352.2L282.6,349.0L285.1,348.7L286.8,351.4L287.6,353.7L290.4,355.1L291.7,354.9M291.7,354.9L292.2,357.9L294.2,359.4L296.3,362.9M276.7,366.9L276.2,364.6L277.4,361.5L279.7,358.0L283.5,359.6L284.7,362.4L282.5,366.3L280.4,367.4L278.5,367.0L276.7,366.9M289.1,368.4L286.1,366.1L286.6,362.8L284.7,362.1L284.0,365.5L283.3,369.2L282.9,371.3L284.6,372.0L287.7,371.6M288.7,373.3L286.9,375.9L283.8,376.9L281.7,378.6L280.5,380.2L279.3,382.7L278.0,385.3L278.5,387.6M278.5,387.6L276.6,387.5L274.7,387.7L272.8,387.2L270.6,386.8M278.5,387.6L280.9,388.2L278.4,391.5L276.7,393.7L277.9,395.7L280.4,396.6L283.0,396.0M283.0,396.0L284.1,395.6M284.1,395.6L286.3,393.9L289.0,395.6L292.3,394.9L294.1,394.1L295.7,392.1L297.5,391.2M258.9,406.4L260.3,409.0L262.5,409.7L265.6,411.0L269.0,410.4L272.0,410.8L273.2,413.4L276.3,413.7L277.4,414.8L280.3,414.5L282.4,415.1M282.4,415.1L283.7,412.9L283.2,408.5L280.2,408.3L279.4,405.1L279.6,403.0L280.8,400.5L283.8,401.0L285.6,399.3L283.4,397.5L283.0,396.0M291.7,354.9L292.8,353.0L294.8,351.8L296.2,349.5L298.6,347.9L301.4,346.6L304.1,344.3L307.3,342.6L308.6,340.2M308.6,340.2L306.9,338.4L307.2,335.7L304.3,333.8L301.5,334.9L300.1,331.6L298.2,327.8L300.8,326.1L302.2,324.7L303.3,323.6M303.3,323.6L301.1,320.7L299.8,318.6L299.8,316.2L301.4,313.6L303.3,313.0L305.3,311.1L306.9,310.8L307.4,307.2L308.3,304.0L307.3,301.3L308.2,298.2L305.3,295.3L303.0,293.4L298.6,294.8L296.5,294.0L294.0,290.5L291.0,288.7L290.0,284.8M308.6,340.2L311.3,340.9L312.8,341.8L315.7,343.1L317.6,345.7L318.6,348.5L320.3,350.0L320.5,352.3M303.3,323.6L305.7,323.5L307.9,326.0L310.6,327.0L314.6,325.9L317.5,327.4L320.2,328.0L321.9,329.7L325.0,332.0L327.9,331.3L331.2,332.4L334.3,331.0L337.2,332.1L340.1,332.2M284.1,395.6L287.2,397.1L290.0,399.4L292.6,400.9L293.5,404.3L295.7,405.8L298.5,404.5L298.8,406.6L296.5,408.1L295.9,410.6L298.3,413.2L300.4,413.8L302.5,414.4M302.5,414.4L304.2,413.9L306.1,414.5L307.1,414.9L309.0,414.0M309.0,414.0L309.7,412.1L310.7,410.5M309.0,414.0L309.7,414.8L311.3,415.5M302.5,414.4L302.9,417.0L301.4,418.8L299.8,420.2L300.0,421.9L298.3,424.2L296.9,425.3M296.9,425.3L294.3,424.8L291.1,424.0L288.9,422.7L285.9,424.0M285.9,424.0L285.1,420.8L284.2,417.9L283.1,416.6L282.4,415.1M296.9,425.3L296.4,427.2L298.5,429.5L299.4,431.8M299.4,431.8L301.5,432.4L302.3,435.8L304.5,434.6L306.8,436.1L308.8,435.2L310.3,436.4M299.4,431.8L296.5,434.0L294.5,434.8L292.7,437.1L291.0,440.2L290.3,443.3L289.0,446.3L288.9,449.9L288.4,452.9M288.4,452.9L291.0,453.7L293.9,455.2L294.4,457.4L296.1,459.6M285.9,424.0L283.9,424.2L282.5,425.5L280.1,426.6L277.1,427.8L275.5,429.7M275.5,429.7L276.8,432.9L276.0,435.3L274.9,437.7L275.7,440.6L276.8,444.0L277.9,446.9L277.7,450.7M277.7,450.7L281.5,451.2L280.0,454.6L282.5,455.5L285.6,454.3L288.4,452.9M252.5,415.5L255.1,417.3L255.2,419.6L252.7,420.3L250.2,421.6L247.3,422.9L246.8,425.3L248.9,427.0L250.3,429.3L251.4,431.0M251.4,431.0L252.5,427.7L255.6,427.0L258.0,425.4L261.1,425.2L263.6,425.6L266.8,427.5L269.8,426.7L273.3,425.5L274.0,427.8L275.5,429.7M251.4,431.0L251.2,433.4L251.9,435.7M251.9,435.7L252.5,438.9L250.5,441.3L252.7,442.7L252.6,445.6L253.5,449.1M253.5,449.1L256.2,448.4L259.3,447.1L262.4,446.9L263.2,449.8L262.3,452.7L264.0,454.7L267.3,455.6M267.3,455.6L268.2,453.2L270.9,453.3L272.5,452.6L275.6,451.8L277.7,450.7M267.3,455.6L267.3,458.8L265.3,461.0L264.9,463.6L264.2,466.3L261.4,469.0L259.5,470.9L257.7,473.0L256.4,475.1M253.5,449.1L250.4,451.9L248.3,452.5L245.7,454.1L242.5,453.6L239.8,454.2L236.1,455.7L232.3,456.0L229.6,456.3L227.2,457.2M227.2,457.2L227.4,458.9L230.1,459.2L232.9,461.0L235.9,462.1L234.8,464.4L232.9,466.2M251.9,435.7L249.8,435.5L248.7,433.5L246.1,433.9L245.0,431.5L242.4,431.6L240.9,433.1L238.9,434.3L237.3,433.5L235.8,434.7M235.8,434.7L233.2,435.0L235.3,437.9L233.3,439.7L231.2,439.6M231.2,439.6L230.4,441.4L227.0,441.7L223.0,442.6L222.5,444.9L224.3,446.7L227.2,447.6L225.9,450.5L227.5,453.1L226.1,455.2L227.2,457.2M246.4,413.5L245.5,415.9L244.6,418.3L244.2,421.0L241.7,422.5L240.2,425.2L238.2,425.5L237.2,424.3L234.1,423.8L232.4,425.3L231.9,428.5L233.2,431.5L234.5,432.3L235.8,434.7M231.2,439.6L229.1,437.3L226.5,437.6L226.2,434.4L224.2,434.4L222.1,436.4L220.7,439.6L218.6,442.5L219.0,446.6L216.9,448.3L213.1,449.1L211.1,447.0L210.1,444.0L208.1,443.1L209.2,440.5L207.2,438.3L204.6,437.9L203.7,434.9L201.7,434.2L200.6,436.2L199.4,434.1L199.1,430.0"/></g>
<g id="world"><path fill="#b5e5f7" stroke="#b5e5f7" stroke-width="0.5" stroke-linejoin="round" d="M424.0,330.1L427.3,328.4L428.9,327.6L425.2,325.0L428.1,322.6L433.5,319.0L437.2,320.0L440.6,321.0L446.4,322.2L451.3,323.6L454.7,321.6L457.2,320.6L459.6,322.2L463.8,322.6L467.9,325.5L473.8,325.5L475.4,324.0L479.6,325.9L482.1,324.6L483.7,325.2L484.1,321.6L484.5,317.9L485.8,318.5L486.6,322.2L488.3,324.0L489.1,323.2L490.4,324.6L491.2,326.5L492.4,324.0L492.8,322.4L495.3,322.2L495.9,324.4L494.9,325.9L495.8,327.5L493.7,328.8L492.0,328.4L491.6,330.3L490.4,332.6L488.7,333.3L487.0,335.1L485.4,338.2L485.0,341.6L486.2,342.1L486.6,344.9L488.7,344.9L490.8,346.4L492.8,347.5L494.9,347.7L495.3,351.1L496.2,352.6L497.0,353.8L497.8,353.2L497.8,351.1L497.8,348.8L499.5,346.4L498.2,342.4L499.1,339.1L498.7,335.8L500.7,336.0L502.8,336.0L504.1,337.9L505.3,338.2L505.7,341.6L507.4,342.7L508.6,341.9L509.9,339.4L511.9,344.0L513.6,347.2L515.7,349.6L517.2,352.6L516.1,353.5L514.4,355.1L511.9,355.3L509.4,355.3L507.8,356.3L506.1,358.2L504.9,359.9L506.5,358.2L508.6,356.9L509.9,357.3L509.2,358.8L509.4,359.9L510.3,361.0L511.9,361.6L512.8,362.0L513.6,360.2L513.2,361.7L512.5,362.4L510.7,363.3L509.0,364.7L508.5,363.7L509.9,362.3L508.6,362.4L507.8,363.0L506.1,364.1L504.9,365.2L504.6,366.4L505.3,367.2L504.1,367.6L502.4,368.4L501.8,369.1L501.6,370.4L500.9,371.5L500.3,373.4L500.7,375.6L499.7,376.5L498.7,377.4L497.7,378.3L496.3,379.8L495.8,381.6L496.3,384.1L496.9,386.1L496.8,388.0L496.1,388.2L495.5,386.6L494.7,384.9L494.8,383.5L493.8,382.2L492.6,382.6L491.6,381.8L490.4,381.9L489.1,382.1L489.3,383.5L488.3,383.2L487.0,382.7L485.4,382.7L484.3,383.6L482.9,384.7L482.6,386.5L482.3,388.9L482.2,391.5L482.7,393.3L483.6,395.0L484.5,395.9L485.4,396.3L486.8,395.9L487.9,395.5L488.2,393.9L488.7,392.8L490.4,392.3L491.4,392.7L490.8,394.8L490.4,396.3L490.1,397.9L489.7,399.1L490.8,399.0L492.2,399.0L493.5,399.1L494.3,400.0L494.1,401.7L493.9,403.7L494.3,405.3L495.0,406.5L496.0,407.1L497.0,406.5L497.8,406.2L498.8,407.1L499.2,407.8L498.7,408.9L498.2,408.0L497.4,407.0L496.8,407.8L496.7,408.8L495.8,408.3L494.7,407.8L493.9,407.3L493.0,406.1L492.2,405.5L492.2,404.4L490.9,402.4L489.7,402.0L488.5,401.4L486.9,400.5L485.5,399.0L484.5,398.6L483.3,399.2L481.6,398.5L480.4,397.8L478.7,396.6L477.3,395.7L476.2,394.7L475.8,393.5L476.0,392.3L475.4,390.7L474.2,388.9L472.7,387.4L472.3,385.9L471.3,384.7L470.2,383.5L469.6,381.3L468.2,380.1L468.2,381.6L469.2,383.5L470.0,385.3L470.9,387.1L471.7,388.9L472.5,390.3L472.1,390.8L471.3,389.5L470.3,388.6L470.2,387.1L468.8,385.5L467.9,384.7L468.4,383.7L467.3,381.9L466.5,380.0L466.1,379.0L465.2,377.5L464.2,376.9L463.3,376.5L462.3,374.3L461.7,372.4L460.6,370.2L460.1,369.0L460.3,366.8L460.2,364.8L460.5,361.0L459.9,357.9L461.3,358.1L461.5,356.8L460.1,355.6L458.4,354.4L457.3,352.9L456.7,351.1L455.3,348.8L454.3,346.8L452.6,344.4L450.9,342.6L449.3,341.8L447.4,340.4L445.5,339.9L443.5,339.6L441.8,338.4L440.3,339.6L439.3,340.3L437.4,341.3L437.9,339.1L438.9,337.9L437.2,338.7L436.0,340.8L435.3,342.7L433.5,344.9L431.8,346.4L430.2,347.4L428.5,348.2L426.6,348.8L428.1,347.5L429.8,346.4L431.8,344.9L432.8,342.7L433.1,341.9L431.4,342.3L429.8,342.1L428.9,341.1L428.9,339.9L426.9,339.1L426.0,337.4L425.9,335.8L426.9,334.6L428.5,333.9L429.8,333.5L429.8,332.1L428.1,331.9L426.1,332.1L424.8,330.8ZM426.6,348.6L425.2,349.6L423.5,350.5L421.9,351.4L420.2,352.0L420.2,352.5L422.3,351.9L424.0,351.1L425.4,350.2L426.8,349.1ZM435.1,344.0L436.2,344.9L437.1,344.0L436.9,342.7L436.0,343.1ZM512.4,328.2L510.7,330.8L509.9,333.9L508.6,335.1L509.4,336.5L507.0,336.0L505.3,335.1L503.8,333.7L502.0,332.4L499.9,332.4L498.7,331.5L499.1,330.3L501.6,330.6L502.4,329.0L503.2,326.9L502.0,325.2L499.9,324.0L499.5,322.0L497.4,321.6L495.3,322.0L492.8,321.6L490.8,321.2L489.1,319.8L488.9,317.5L489.1,313.6L491.6,313.4L493.3,314.3L495.3,313.6L496.6,314.1L496.3,316.2L498.7,315.6L500.3,316.2L502.0,317.9L504.1,319.2L505.7,320.4L507.4,322.6L507.8,324.6L509.9,325.9L511.5,327.1ZM465.9,321.8L467.5,323.2L469.2,324.6L472.1,324.4L474.6,323.8L476.1,324.4L478.7,323.0L479.6,321.6L477.5,320.0L476.4,318.3L475.8,315.8L474.2,314.7L472.1,315.4L469.2,316.0L467.9,314.7L465.9,315.6L464.6,317.9L465.6,318.7L467.3,320.4L466.3,321.0ZM459.2,317.5L461.1,319.4L463.4,318.5L465.0,316.4L466.3,314.5L467.5,313.2L465.0,312.3L462.6,312.1L460.1,312.5L459.8,315.4ZM465.9,309.8L468.8,311.4L472.1,311.7L475.4,311.0L475.6,309.0L472.9,307.8L470.0,308.6L467.1,308.0ZM477.1,310.6L480.4,311.0L482.5,309.8L481.2,307.8L478.3,308.2ZM478.3,317.9L481.2,318.3L482.9,316.9L482.9,313.9L480.0,313.4L478.7,315.4ZM483.7,316.9L486.2,317.5L488.3,315.6L488.3,313.2L485.4,312.8L483.9,314.3ZM487.0,311.4L492.0,312.1L497.0,311.7L497.2,309.8L493.7,309.2L490.4,308.0L487.5,308.4L489.1,309.8ZM488.7,308.0L493.7,308.2L497.8,308.0L499.1,306.3L500.3,303.8L503.6,302.1L507.0,300.1L510.3,297.6L512.4,295.5L508.6,293.8L503.6,293.2L497.8,293.4L492.8,294.8L488.7,296.9L487.0,299.4L490.4,301.0L492.4,302.7L490.4,304.9L489.9,306.5ZM483.7,302.3L487.0,303.8L489.9,303.6L490.8,300.5L488.7,299.2L485.4,297.8L483.7,299.9ZM477.1,304.4L481.2,305.3L482.1,303.1L477.9,302.3ZM461.3,309.0L466.3,309.2L467.1,306.3L463.8,305.9ZM491.2,331.2L492.4,333.9L494.5,334.4L496.2,333.7L496.8,332.1L494.9,330.3L493.3,329.0L492.0,329.7ZM514.2,358.9L515.7,359.2L517.1,360.1L518.6,360.3L519.6,359.9L519.6,358.6L519.0,356.8L517.8,355.9L517.3,353.4L516.3,353.8L515.4,355.9L514.6,357.6ZM456.9,354.4L458.8,356.3L460.1,357.6L461.0,357.9L460.2,356.3L458.8,354.8ZM453.0,349.4L454.1,349.6L454.5,351.4L453.7,351.7ZM492.9,392.0L494.1,390.9L495.3,390.5L497.0,390.7L498.7,391.5L499.9,392.7L501.8,394.0L500.7,394.3L499.1,394.3L499.1,393.4L497.8,392.5L496.6,391.9L495.3,391.3L494.1,391.6ZM501.6,396.1L502.6,394.3L504.1,394.3L505.4,394.7L506.6,395.9L505.7,396.2L504.6,396.3L503.9,396.9L503.0,396.3ZM498.4,396.1L499.5,396.0L500.2,396.6L499.3,396.8ZM507.6,396.0L508.9,396.1L508.8,396.6L507.7,396.6ZM498.5,386.3L499.3,386.4L498.9,388.1L498.5,388.3ZM512.1,404.9L512.9,404.8L512.8,405.6L512.1,405.6ZM502.8,304.2L505.3,306.5L506.5,308.6L510.3,308.8L513.6,309.0L515.3,310.6L516.5,313.2L517.8,316.4L518.6,319.6L520.7,321.6L519.0,323.2L521.1,324.6L519.0,327.5L519.0,329.9L520.2,332.6L521.5,335.1L523.1,337.9L525.2,339.1L526.5,340.1L527.7,339.4L528.1,336.9L529.0,334.8L530.0,332.1L531.9,330.1L533.5,329.5L536.0,326.5L538.5,325.2L541.4,324.4L543.9,322.2L545.1,320.8L543.5,319.0L544.7,316.9L543.5,315.4L546.0,313.2L546.8,310.6L547.2,307.4L546.0,305.3L547.2,302.7L549.3,300.5L551.8,298.7L553.4,296.9L549.3,296.4L546.0,295.5L541.8,293.1L536.8,292.2L531.9,292.6L526.0,293.8L521.1,295.0L516.9,295.3L513.6,296.4L511.1,297.8L508.6,299.9L507.0,301.4L505.3,303.1ZM543.1,330.3L544.3,328.8L545.6,330.1L546.4,329.3L548.5,329.0L550.1,328.4L551.3,329.7L552.1,331.2L551.1,332.4L549.7,333.3L547.8,334.1L546.4,333.7L544.6,333.2L545.1,332.1L543.6,331.5L544.7,330.8ZM498.7,408.9L499.2,407.6L499.7,407.6L500.1,406.5L500.7,405.0L501.3,404.5L502.4,404.2L503.5,403.4L504.1,403.0L504.2,403.9L503.8,404.8L504.2,405.4L504.9,404.2L505.3,403.2L505.7,404.0L506.7,404.8L507.8,405.2L508.6,405.0L509.6,405.6L510.7,405.0L511.9,404.9L511.5,405.6L512.5,406.1L513.2,407.4L514.3,408.2L515.3,409.3L516.1,410.4L517.3,410.4L518.6,410.5L519.8,411.4L520.9,412.3L521.5,414.8L522.0,415.7L521.5,416.8L522.7,417.2L523.4,417.9L524.4,417.8L525.6,418.6L526.6,419.9L527.7,419.8L529.0,420.3L530.2,420.3L531.4,421.2L532.5,422.4L533.9,422.7L534.4,424.3L534.5,426.0L533.9,427.9L532.7,429.4L531.4,431.7L531.0,433.4L531.0,435.7L530.9,437.4L530.4,439.3L529.5,441.2L528.7,443.1L527.5,443.3L526.2,443.7L525.0,444.5L523.7,445.7L523.1,446.9L523.1,448.8L522.6,450.3L521.7,452.1L520.7,453.7L520.1,454.6L519.1,456.4L518.2,457.5L516.8,457.9L515.4,457.2L514.9,456.6L514.9,457.5L515.9,458.6L516.3,459.8L515.7,461.9L514.4,462.8L512.8,463.0L511.8,463.0L511.8,465.3L510.4,466.0L509.4,465.6L509.4,467.2L510.5,467.6L510.0,468.4L509.2,469.3L509.1,471.3L508.0,471.7L507.4,472.7L508.2,474.1L508.8,475.2L507.4,477.4L506.3,478.9L506.0,480.8L506.6,481.8L505.7,482.1L506.5,482.9L507.1,484.4L508.6,485.4L509.3,485.7L508.2,486.3L507.5,487.4L506.1,486.8L504.9,486.1L503.6,484.9L502.4,483.2L501.6,481.4L501.0,479.2L500.7,476.2L500.7,473.7L501.8,472.0L502.1,469.9L501.8,467.8L502.1,466.1L502.3,464.2L502.5,461.9L502.6,460.6L503.1,458.6L503.8,456.5L504.1,454.2L504.1,451.8L504.2,449.9L504.6,448.1L504.9,445.7L505.0,443.9L505.1,441.5L505.1,439.8L505.1,437.9L504.1,436.6L502.8,435.6L501.1,434.4L500.1,432.6L499.3,430.6L498.7,428.5L498.0,426.7L497.2,425.1L496.2,423.8L495.9,422.3L496.7,420.9L497.1,419.9L496.3,419.6L496.3,418.1L496.9,417.0L497.0,416.1L497.9,415.3L498.2,414.2L499.1,414.0L499.3,412.6L499.1,410.8L499.2,409.5ZM512.6,480.8L514.0,480.3L515.4,480.6L514.8,481.7L513.2,481.8ZM558.9,374.6L558.2,373.9L557.3,373.2L556.0,373.4L556.1,371.6L555.5,371.1L556.0,369.2L556.2,367.6L556.0,366.4L555.7,365.5L556.6,364.5L558.4,364.7L560.2,364.8L561.9,364.9L562.3,363.4L562.5,361.9L562.3,361.0L561.7,360.1L561.3,359.3L559.8,358.8L559.4,357.9L560.5,357.3L561.7,357.6L562.2,357.5L561.9,356.0L562.5,356.5L563.5,356.3L564.6,355.4L564.8,354.3L565.6,354.0L566.3,353.5L566.8,352.6L567.3,351.3L568.0,350.6L569.2,350.3L570.2,350.2L570.7,349.6L570.5,348.2L570.1,347.1L570.1,345.5L570.5,344.7L571.4,344.4L572.2,343.7L572.0,345.7L572.4,346.0L571.9,346.8L571.5,347.7L571.4,348.3L571.9,349.0L572.5,349.0L572.4,349.6L573.4,349.3L573.9,349.0L574.7,348.8L575.3,349.7L576.5,349.3L577.5,348.5L578.6,348.3L579.0,349.0L579.8,349.0L580.4,348.5L580.8,347.4L580.8,346.1L580.8,344.9L581.3,343.9L582.2,343.7L582.7,344.7L583.4,344.7L583.7,343.4L583.7,342.6L582.9,342.1L582.9,341.3L584.0,340.8L585.4,340.6L586.6,340.8L587.5,339.9L588.5,340.1L587.5,339.1L586.2,339.1L585.0,339.2L583.7,339.8L582.5,340.1L582.1,339.4L581.2,338.9L581.2,337.4L581.1,336.0L581.3,334.6L582.3,333.5L583.6,331.9L584.4,331.0L584.1,329.9L583.4,329.7L581.8,330.1L581.2,331.5L580.8,332.6L580.2,333.7L579.2,334.6L578.2,335.6L577.8,337.4L577.7,338.7L578.6,339.6L579.0,340.6L578.2,341.8L577.3,342.4L577.3,343.7L577.0,345.5L576.5,346.3L575.4,346.4L575.2,347.4L574.2,347.4L573.9,346.1L573.8,345.2L573.3,343.9L572.8,341.9L572.4,341.3L572.1,340.4L571.5,341.6L570.6,342.6L569.9,343.2L569.0,343.1L568.1,341.9L567.7,340.6L567.6,339.1L567.5,337.4L567.7,336.3L568.6,335.5L569.6,334.6L570.9,333.7L571.9,332.6L572.7,331.4L573.6,329.7L574.4,328.0L575.3,326.7L574.4,325.3L575.9,324.6L577.1,324.2L577.9,323.0L579.0,321.8L580.4,321.4L581.7,320.8L582.7,320.0L583.7,319.6L584.8,319.3L586.0,319.6L587.1,319.8L588.3,320.4L589.1,320.8L588.1,321.8L589.5,322.2L590.8,322.8L592.0,322.6L593.7,323.4L595.4,324.8L597.0,325.9L597.6,327.6L596.6,328.8L594.9,329.1L593.3,328.6L592.0,328.0L590.6,327.3L591.2,328.4L592.0,329.5L592.3,331.2L592.3,332.3L593.7,333.0L594.9,332.6L594.1,331.0L595.4,331.5L596.6,331.7L597.0,330.3L596.6,329.3L598.3,328.4L599.5,329.0L600.1,328.4L599.9,326.5L600.1,325.2L599.3,324.2L600.8,324.4L601.6,325.2L601.6,327.6L602.8,327.6L603.7,326.1L605.3,325.3L607.0,324.6L608.2,325.0L609.0,324.4L610.7,324.4L612.4,324.6L613.4,323.6L613.6,322.0L615.3,322.2L616.9,323.0L618.2,323.8L619.8,325.0L620.4,323.8L619.0,322.4L618.9,320.6L619.0,318.5L620.3,316.4L621.1,315.4L622.7,314.9L623.7,315.8L623.6,318.5L623.6,321.6L623.7,324.6L624.4,326.5L623.2,328.8L624.8,327.8L625.4,325.5L626.9,324.6L627.7,325.2L628.1,326.5L628.6,325.2L627.7,323.6L625.6,323.2L624.7,321.6L624.8,319.2L625.6,316.9L627.3,316.9L628.6,316.9L630.2,317.5L631.0,318.1L631.9,320.2L632.7,320.6L632.3,318.5L631.5,316.4L630.5,314.3L633.1,313.6L635.2,312.8L635.6,311.0L638.1,309.8L640.6,309.0L643.1,308.8L645.6,308.0L648.1,306.3L650.0,305.5L651.4,306.3L652.6,307.6L655.1,307.6L657.2,309.0L657.6,310.4L655.5,311.9L653.9,312.8L652.2,314.3L653.9,314.5L655.1,313.4L656.8,313.6L658.0,314.1L659.7,313.9L661.8,314.7L663.0,315.4L665.1,315.4L665.9,314.1L668.0,314.1L669.6,314.7L670.9,315.8L670.5,317.5L670.1,319.0L671.7,319.8L672.5,320.0L673.8,318.5L675.4,318.3L677.5,318.7L678.8,318.5L679.6,316.4L680.8,315.8L682.9,316.2L685.0,316.9L687.1,317.1L688.3,318.5L690.0,319.8L692.9,319.6L695.4,320.0L696.2,322.2L698.3,322.2L700.3,322.4L702.4,322.0L703.7,323.6L704.9,323.6L705.2,321.6L707.4,321.8L709.9,322.2L712.0,323.2L714.0,324.4L716.5,326.3L718.6,327.6L720.3,328.2L721.3,329.1L720.3,330.3L719.0,331.5L718.2,332.4L716.1,331.5L714.0,330.4L712.8,329.7L713.6,328.6L712.4,329.3L711.6,331.7L710.6,331.7L711.6,333.9L712.1,335.8L710.3,335.8L708.6,336.9L706.6,338.4L704.9,339.9L703.3,339.1L701.6,339.4L700.3,340.1L699.1,340.4L698.7,341.9L698.1,343.2L698.5,344.9L698.9,346.1L697.9,347.7L697.6,348.6L696.2,349.6L696.1,351.0L695.0,351.4L694.4,353.1L693.5,354.3L692.9,352.6L692.5,350.3L692.5,348.0L692.9,346.1L693.5,344.2L694.5,342.7L695.8,341.1L696.9,339.4L698.3,338.2L699.1,336.9L699.9,335.6L698.3,335.6L696.6,337.0L695.8,336.9L694.1,337.2L692.9,338.6L692.0,340.8L690.4,341.4L688.7,340.8L687.1,340.8L685.0,340.9L682.5,341.1L680.8,342.4L679.6,343.7L678.4,345.3L677.1,347.2L675.9,348.5L677.1,349.6L678.4,350.0L679.6,350.2L680.6,351.1L680.6,352.6L680.2,354.1L680.0,355.9L679.8,357.8L678.8,359.5L677.9,361.3L676.7,363.0L675.4,364.8L674.2,365.7L673.0,365.2L671.9,366.4L671.1,368.2L670.3,369.1L669.2,370.0L669.2,370.6L670.0,371.5L670.7,373.4L670.9,374.7L670.6,375.9L669.6,376.2L668.4,376.8L668.2,375.4L668.5,374.1L668.1,373.4L668.6,372.7L667.4,372.4L667.1,371.5L667.5,370.3L666.7,369.6L665.5,370.0L664.4,371.0L664.1,370.0L664.8,368.7L664.0,368.3L663.0,369.4L662.3,370.2L661.2,370.8L661.3,371.9L662.2,373.0L663.7,372.4L664.9,372.8L665.1,373.6L663.8,373.9L663.2,374.7L662.4,376.0L663.0,376.9L663.7,378.5L664.5,380.1L664.6,381.1L663.7,381.8L664.6,382.4L664.3,384.1L663.7,384.9L662.8,386.9L662.2,388.1L661.5,388.9L660.5,390.1L659.3,390.9L658.3,391.5L657.5,391.8L656.4,392.2L655.4,392.6L655.0,393.9L654.5,393.6L654.5,392.5L653.5,392.2L652.6,392.7L652.0,393.4L651.4,394.5L651.1,395.7L651.8,396.9L652.6,398.2L653.4,398.9L653.9,400.0L654.1,401.7L654.1,402.9L654.0,403.9L653.0,404.8L652.2,405.3L652.0,406.2L651.0,406.9L650.4,407.3L650.5,406.0L650.1,405.3L649.3,405.0L648.9,404.2L648.4,403.2L647.2,402.6L647.1,401.7L646.6,401.8L646.4,403.1L646.0,404.6L645.7,405.7L646.0,406.6L646.6,407.5L646.8,408.9L647.7,409.3L648.5,410.2L649.2,411.6L649.3,413.6L649.9,415.4L649.3,415.4L648.2,414.5L647.5,413.6L647.0,412.3L646.6,410.8L646.5,409.7L645.7,408.6L645.1,408.0L645.1,406.9L645.2,405.2L645.3,403.4L644.9,401.4L644.5,399.8L644.4,398.3L643.5,397.7L643.1,398.5L642.5,399.1L641.7,398.9L641.8,397.1L641.6,395.6L641.0,394.5L640.4,393.6L639.8,392.5L639.6,391.4L638.5,391.6L637.5,392.1L636.4,392.2L635.6,392.5L635.4,393.6L634.8,394.3L633.8,395.4L632.6,396.8L631.7,398.2L630.6,399.0L629.9,400.0L630.0,401.7L629.7,403.4L629.6,405.3L629.0,406.4L628.3,407.0L627.7,407.9L627.1,407.1L626.6,405.7L626.3,404.0L625.6,402.4L625.1,400.6L624.5,398.9L624.0,397.1L623.8,395.4L623.7,393.6L623.7,392.1L623.3,393.1L622.3,393.4L621.5,393.1L620.7,391.6L621.5,391.0L620.7,390.5L619.8,389.9L619.3,389.3L618.8,388.3L617.8,388.0L616.5,388.0L615.3,388.1L614.0,388.1L612.8,387.8L611.5,387.6L610.9,387.1L610.5,385.9L609.7,385.9L608.6,386.4L607.4,385.9L606.4,384.9L605.6,383.6L605.1,382.2L604.1,381.8L603.2,382.2L603.5,383.7L603.9,385.1L604.7,386.1L605.1,387.4L605.6,387.7L605.9,387.0L606.2,388.1L605.9,388.9L606.8,389.4L608.2,389.3L609.2,388.1L610.1,386.8L610.3,388.3L610.5,389.3L612.0,390.0L613.0,391.3L612.2,393.4L611.4,395.2L610.7,395.6L609.5,396.8L608.2,397.7L606.8,398.5L605.3,399.8L603.7,401.2L602.0,401.8L600.8,402.5L599.5,402.6L599.3,401.7L598.9,400.0L598.8,398.3L598.1,396.6L597.3,394.8L596.2,393.3L595.9,392.1L595.6,390.7L594.8,389.3L594.1,387.7L593.3,386.1L592.6,384.7L592.3,383.7L592.4,382.9L592.2,383.7L591.9,384.9L591.2,384.1L590.6,382.9L590.4,382.4L590.4,380.9L591.2,380.9L591.9,380.5L592.4,379.1L592.6,377.9L593.0,376.6L593.2,375.0L593.4,373.8L592.6,373.9L591.6,374.3L590.6,374.7L589.5,373.8L588.8,373.7L588.1,374.5L587.1,373.7L586.1,373.4L586.0,372.1L585.4,371.5L585.6,370.4L585.1,370.0L585.3,369.1L586.2,369.0L587.5,369.0L588.1,368.4L587.6,367.9L588.7,368.0L589.8,367.6L591.0,366.8L592.4,366.8L593.3,367.4L594.1,367.9L595.4,368.2L596.6,368.2L597.8,367.5L598.0,366.4L597.4,365.3L596.4,364.8L595.6,363.7L594.6,363.0L593.9,362.4L594.9,361.3L595.2,360.2L595.9,359.6L594.9,359.6L593.7,360.3L592.6,360.8L592.4,361.6L593.6,362.2L592.8,362.7L591.8,363.6L591.2,363.3L590.5,362.2L591.3,361.3L590.2,361.0L589.5,360.3L589.0,360.8L588.1,362.0L588.0,362.7L587.2,363.8L586.6,365.1L586.3,366.2L586.7,367.1L587.4,367.9L586.5,368.2L585.7,368.7L585.1,369.4L585.0,368.6L584.0,368.3L583.2,368.6L583.5,369.4L582.9,369.4L582.3,368.8L582.2,369.9L582.7,370.7L582.3,371.2L583.3,371.9L583.3,372.5L582.7,372.3L582.7,373.0L582.6,374.1L582.1,374.1L581.8,373.6L581.4,373.7L581.0,372.5L581.2,371.9L582.3,372.1L581.0,371.6L580.7,370.8L580.2,370.0L579.6,369.1L579.5,368.2L579.6,367.1L578.8,366.3L577.9,365.5L576.9,364.8L576.0,363.8L575.7,362.7L575.3,362.3L574.8,362.9L574.7,361.9L573.8,362.0L573.6,363.0L573.7,363.8L574.6,364.7L575.0,365.9L575.9,366.8L576.8,367.0L576.6,367.5L577.5,368.0L578.3,368.7L578.8,369.4L578.6,369.8L577.7,369.0L577.2,369.8L577.6,370.8L577.1,371.5L576.8,372.2L576.4,372.1L576.6,371.1L576.8,370.2L576.2,369.5L575.7,368.7L575.0,368.3L574.2,367.8L573.5,367.1L572.7,366.3L572.1,365.5L571.9,364.7L571.5,364.0L570.7,363.6L570.1,364.2L569.5,364.5L568.5,365.3L567.7,365.1L566.7,364.8L566.1,365.2L566.0,366.3L566.1,367.0L565.2,367.6L564.2,368.2L564.0,368.7L563.2,370.0L563.6,371.2L562.9,371.9L562.7,372.7L561.7,373.7L560.5,373.8L559.6,373.9ZM558.5,375.0L559.0,374.8L560.1,375.7L561.1,375.7L562.2,375.6L563.2,374.8L564.6,374.1L565.9,373.6L567.5,373.7L569.2,373.4L570.6,373.4L571.5,373.0L572.5,373.4L572.2,375.0L572.4,376.4L571.8,377.4L572.7,378.3L574.4,378.6L576.0,379.3L577.1,380.8L578.3,381.4L579.6,381.8L580.0,381.0L580.0,379.6L581.2,378.6L582.2,378.8L583.3,379.8L584.3,380.3L586.0,380.5L587.5,381.1L588.3,380.6L589.1,380.3L590.2,380.7L590.5,382.4L590.5,383.5L591.0,384.7L591.5,385.9L592.0,387.5L592.9,389.5L592.9,390.7L594.0,391.9L594.3,393.1L594.3,394.7L595.4,396.6L595.9,398.3L596.4,399.7L597.4,400.6L598.5,402.0L599.3,402.9L599.3,403.9L599.9,405.2L601.2,405.2L602.6,404.5L604.1,404.2L605.6,403.6L606.0,403.7L605.8,405.2L605.2,406.9L604.5,408.9L603.9,410.8L603.1,412.3L601.8,414.2L600.8,415.1L599.5,416.6L598.7,417.6L597.8,419.0L597.3,419.8L596.7,420.7L596.3,421.8L595.8,422.8L595.7,424.1L596.1,424.9L596.1,426.6L596.4,428.0L596.9,428.7L597.0,431.1L597.1,433.4L596.8,434.9L596.2,435.8L594.9,436.6L594.0,437.3L592.9,438.6L592.3,439.7L592.4,440.9L592.9,442.7L592.8,444.5L592.0,445.4L591.0,446.0L590.5,446.9L590.7,448.3L590.2,450.3L589.3,451.5L588.5,453.2L587.3,454.9L586.2,455.9L584.7,456.7L582.9,456.9L581.7,457.0L580.0,457.8L579.0,457.1L578.5,456.1L578.6,454.9L578.6,453.9L577.8,452.0L577.1,450.0L576.2,448.1L575.9,446.9L575.5,445.1L575.4,443.1L574.6,440.9L573.9,438.6L573.2,436.9L573.2,435.1L573.6,433.4L574.4,431.5L574.9,429.4L574.4,427.5L574.1,425.4L573.6,423.8L573.4,422.6L572.5,421.3L571.5,419.7L570.8,417.9L571.2,416.6L571.4,415.3L571.5,413.9L571.4,412.7L570.7,411.9L569.6,412.1L568.4,412.2L567.5,410.5L566.3,409.8L565.1,409.9L563.8,410.5L562.6,411.2L561.6,411.7L560.1,411.2L558.4,411.6L557.0,412.1L555.8,411.2L554.4,409.8L553.0,408.6L552.4,407.3L551.9,406.2L551.1,404.8L550.3,403.7L549.5,402.9L549.5,401.6L548.9,400.4L549.5,399.1L549.9,397.7L550.1,396.3L549.8,394.8L549.3,393.2L550.0,391.5L550.2,389.9L551.0,388.3L551.4,387.0L552.3,385.7L552.7,384.8L553.9,384.1L554.9,383.1L555.4,381.8L555.3,380.4L555.8,379.3L556.9,377.9L557.8,377.3L558.3,375.9ZM604.3,430.6L605.1,432.8L605.2,434.9L604.6,436.5L604.3,438.0L603.7,440.9L603.1,443.5L602.5,445.7L601.0,446.3L599.9,445.4L599.4,443.3L599.5,441.5L600.3,439.8L600.1,438.0L600.2,436.3L600.9,435.1L602.0,434.8L603.1,433.5L603.7,431.9ZM681.7,429.1L682.3,431.1L682.8,433.2L683.9,434.0L684.4,436.2L684.8,438.1L685.8,439.3L686.9,440.2L687.3,441.5L688.5,442.8L688.7,444.3L690.0,445.4L690.6,446.3L690.6,448.7L690.9,450.2L690.4,452.4L690.0,454.5L689.1,456.1L688.6,458.0L688.0,459.9L687.8,461.2L686.2,461.7L684.9,463.3L684.0,462.3L682.9,462.7L682.5,462.9L681.1,462.3L679.8,461.5L679.4,459.9L678.8,458.8L678.2,458.6L678.4,457.6L677.9,455.7L677.8,455.0L677.3,456.4L677.5,457.9L676.7,458.3L676.1,457.8L675.6,456.5L674.8,455.4L674.2,454.4L673.0,454.1L672.1,453.6L670.5,453.9L668.8,454.5L667.6,455.0L666.3,455.5L665.7,456.6L664.6,456.6L663.0,456.6L661.8,457.8L660.9,458.1L659.7,457.8L658.9,457.1L658.9,456.1L659.4,455.0L659.4,453.6L658.8,452.1L658.7,450.5L658.1,448.8L657.6,447.2L657.6,445.1L657.9,443.3L657.9,442.1L658.5,441.9L659.4,441.4L660.4,440.5L661.8,440.1L663.0,439.7L664.2,438.8L664.8,437.4L664.9,436.3L665.9,436.8L666.0,435.5L666.7,434.7L667.4,433.6L668.4,432.8L669.2,433.2L669.8,434.0L670.9,433.9L671.0,432.6L671.6,431.5L672.1,430.8L673.4,430.7L673.5,429.9L674.6,430.4L675.9,430.7L676.9,430.7L676.8,431.9L676.2,432.8L675.9,433.9L676.7,434.9L677.8,435.6L678.8,436.3L679.6,437.1L680.3,436.9L680.8,435.4L680.9,433.4L681.0,431.5L681.3,429.8ZM683.5,465.4L685.0,466.0L686.4,465.6L686.5,467.4L686.1,468.8L685.2,469.3L684.6,469.1L684.0,467.6ZM706.7,457.4L708.1,458.4L708.9,459.9L709.4,461.2L710.5,461.9L711.6,461.5L711.1,463.2L710.3,463.8L710.2,465.2L709.1,466.5L708.5,466.2L708.8,464.8L707.7,463.7L708.3,462.5L708.5,461.0L707.8,459.7L707.2,458.3ZM706.7,465.3L708.0,466.2L707.9,467.2L707.0,468.9L705.7,470.2L705.3,472.0L704.5,473.1L703.5,473.5L702.3,473.1L701.6,472.3L702.4,470.9L703.5,469.8L704.9,468.5L705.7,466.9L706.2,465.7ZM672.1,417.9L673.4,417.4L674.6,418.0L674.8,419.8L675.4,420.8L676.7,419.5L677.9,418.8L679.2,419.4L680.4,419.9L682.5,420.8L683.4,421.4L684.4,422.6L685.4,423.6L686.1,424.3L685.5,424.9L686.2,426.0L687.5,427.7L688.6,428.6L687.5,428.7L685.9,428.3L684.7,426.7L683.6,425.7L682.6,426.5L681.8,427.4L680.4,427.3L679.4,426.1L678.2,426.5L677.8,425.2L678.6,424.7L677.9,423.2L676.3,422.2L674.6,421.4L673.7,421.6L673.0,420.3L674.3,419.8L673.2,419.5L672.1,418.7ZM686.7,423.3L688.3,423.2L689.7,421.8L689.7,422.6L688.6,424.0L687.1,424.0ZM653.9,415.3L654.5,414.8L655.8,414.1L657.2,413.3L658.0,411.9L659.3,410.8L660.3,409.1L661.1,409.8L662.3,411.2L661.5,412.2L661.0,413.1L661.3,414.4L662.2,415.9L661.2,416.1L660.9,417.9L660.1,418.8L660.0,420.4L659.7,421.5L658.6,421.6L658.4,420.8L657.2,420.6L656.2,420.9L654.9,420.3L654.7,418.7L654.0,417.6L653.9,416.4ZM642.5,410.7L644.3,411.2L645.0,412.3L646.2,413.5L646.8,414.5L647.8,414.9L648.9,416.3L649.5,418.1L650.1,419.2L651.4,420.4L651.3,422.1L651.2,423.6L650.1,423.5L648.9,422.3L647.6,420.6L646.8,418.8L645.7,416.8L645.3,415.1L644.3,413.9L643.1,412.5L642.5,411.4ZM650.7,424.7L651.5,423.8L653.5,424.4L655.1,424.7L655.5,424.3L656.9,424.9L658.4,425.7L658.4,426.8L656.4,426.4L654.3,425.8L652.2,425.6L651.7,425.2ZM658.8,426.1L660.5,426.2L662.2,426.4L663.8,426.5L665.5,426.2L665.5,426.9L663.8,427.0L662.2,426.9L660.5,427.1L659.0,426.9ZM665.9,428.6L667.1,427.1L669.0,426.5L668.0,427.5L666.8,428.4ZM662.8,416.2L663.7,415.5L665.5,415.9L667.1,415.2L666.7,416.6L665.5,416.6L663.5,416.6L663.1,417.9L664.2,418.0L665.7,418.0L664.7,419.0L664.3,419.9L665.1,420.7L665.7,422.1L665.1,423.0L664.4,422.4L663.8,421.3L663.5,420.1L663.3,421.5L663.3,423.2L662.6,423.2L662.6,420.9L662.0,420.1L662.4,418.7L662.8,417.2ZM669.2,414.8L670.1,415.3L670.1,417.6L669.4,416.4ZM669.6,420.4L671.7,420.4L671.3,421.2L669.8,420.9ZM663.5,396.0L664.8,396.0L664.9,398.3L664.3,399.1L664.4,400.8L665.3,401.2L666.3,402.3L666.3,402.9L665.5,402.0L664.2,401.5L663.5,400.9L663.2,400.0L662.8,398.5L663.3,397.1ZM664.7,409.1L665.9,407.4L667.6,406.0L668.4,408.0L668.2,409.7L667.6,410.5L666.7,410.0L666.3,408.6L665.1,408.9ZM666.6,402.9L667.6,402.9L667.8,404.6L667.3,405.7L666.7,404.6ZM664.7,403.7L665.7,404.0L665.9,405.4L665.5,406.6L665.1,406.0L664.7,405.2ZM660.7,407.6L661.8,406.3L662.6,404.2L662.3,405.5L661.3,406.9ZM663.8,388.1L664.7,388.3L664.2,390.1L663.7,391.9L663.1,390.7L663.4,389.1ZM653.6,395.0L654.7,394.1L655.5,394.6L655.1,395.7L654.3,396.3L653.6,395.9ZM679.6,367.5L679.8,365.2L680.9,362.2L682.1,363.4L684.0,363.8L684.3,365.1L682.9,365.6L682.3,366.8L681.1,366.0L680.4,366.4L680.3,367.2ZM680.8,367.6L681.2,369.5L680.8,371.7L680.4,373.4L680.3,375.1L679.6,376.0L679.4,375.5L678.6,376.4L677.5,376.4L676.9,376.9L676.1,377.9L675.5,376.9L674.6,376.5L673.4,377.0L672.1,377.3L672.0,376.8L673.4,375.5L674.9,375.2L676.3,375.1L676.9,373.4L677.4,372.8L677.4,373.7L678.4,372.9L679.2,371.5L679.6,369.8L679.6,368.6L680.3,367.9ZM673.4,377.4L674.8,376.9L675.2,377.5L674.8,378.1L673.8,378.8L673.3,378.1ZM671.3,377.9L672.1,377.4L672.9,378.3L672.5,380.1L671.9,381.0L671.5,380.4L671.5,379.1L671.1,378.5ZM681.3,349.1L682.1,350.3L682.3,353.4L682.9,356.8L682.1,359.2L682.5,360.9L681.7,361.3L681.3,359.2L681.3,356.3L681.1,353.4L681.2,350.6ZM684.6,363.4L686.7,362.0L688.7,360.6L690.4,358.5L692.5,355.6L692.7,355.3L690.6,358.5L689.0,360.6L686.9,362.3L684.8,363.7ZM629.8,406.1L630.8,407.4L631.3,408.9L630.9,410.0L630.0,410.2L629.6,408.6L629.7,407.1ZM558.8,355.4L560.5,355.1L562.2,354.6L564.5,353.8L564.7,351.7L563.6,351.1L563.2,349.6L562.2,348.0L561.6,346.4L561.7,344.0L560.5,343.7L560.9,342.3L559.2,342.3L558.6,344.0L558.8,346.4L559.4,348.0L560.7,348.3L560.9,350.3L559.7,350.6L559.9,351.9L559.1,352.9L560.7,353.5L559.8,354.1ZM555.1,352.9L556.8,353.1L558.3,352.2L558.4,350.3L558.8,348.6L558.0,347.7L556.5,347.7L556.3,349.0L555.1,349.3L555.5,350.8L554.9,352.2ZM572.9,302.1L575.0,300.5L578.3,300.7L580.0,299.4L584.1,299.6L585.8,300.5L583.3,302.1L580.8,302.7L578.3,303.8L575.9,303.6L574.2,302.9ZM606.4,318.5L607.4,319.8L609.5,320.2L610.7,320.0L610.5,317.9L609.7,315.6L608.7,314.9L607.9,316.7ZM608.9,314.3L610.0,314.5L612.0,312.1L614.4,310.2L617.4,308.8L620.3,307.8L620.5,307.0L618.2,306.9L614.9,308.2L612.0,310.0L609.9,311.9ZM602.4,299.9L605.7,300.3L609.9,300.1L613.2,299.4L615.7,298.7L613.2,296.9L609.0,297.6L604.9,298.5ZM642.7,300.1L644.7,297.8L646.4,299.9L648.5,301.0L650.5,302.7L651.0,304.2L648.5,304.6L646.0,304.2L644.7,302.1ZM677.5,310.0L679.6,308.8L682.5,309.4L685.0,310.2L688.3,310.8L686.7,311.7L682.9,311.2L680.0,311.7L677.9,311.4ZM679.6,313.6L682.5,314.1L681.7,314.9L680.0,314.7ZM711.6,319.2L713.2,318.5L714.9,319.2L713.6,319.8L712.0,319.8ZM573.8,372.1L575.0,372.0L576.3,371.9L576.0,373.8L574.6,373.2L573.8,372.7ZM570.2,368.3L571.0,367.9L571.5,368.8L571.4,370.6L570.7,371.0L570.4,370.2ZM570.5,366.3L571.2,365.5L571.3,367.1L571.0,367.6L570.6,367.1ZM582.9,375.4L584.1,375.5L585.2,375.7L584.1,376.1L583.0,375.7ZM590.2,376.0L591.2,375.6L592.0,375.2L591.5,376.0L590.8,376.5ZM434.0,394.0L434.8,394.5L434.3,395.4L433.9,394.8ZM607.6,402.8L608.6,402.9L608.1,403.1ZM595.9,423.5L596.2,424.0L596.0,424.3ZM699.5,440.0L700.8,440.9L702.0,442.5L701.4,442.4L699.9,440.9ZM710.6,436.9L711.6,437.0L711.4,437.7L710.6,437.6ZM693.3,424.7L695.0,425.8L696.6,427.4L697.4,428.5L696.2,427.8L694.5,426.2ZM701.8,434.0L702.3,434.7L702.6,435.7L702.2,435.4Z"/><path fill="#00ade9" d="M602.4,362.3L603.7,360.9L605.3,360.1L607.0,360.1L607.6,360.9L607.2,362.3L605.9,363.3L605.1,363.7L605.9,365.1L606.9,366.6L607.1,367.8L608.0,368.8L607.4,370.4L608.1,372.8L606.8,373.7L605.3,373.3L604.2,372.1L604.1,370.4L604.5,369.1L604.1,367.8L603.1,365.7L602.7,364.4L602.2,363.4ZM612.0,360.6L613.2,360.2L614.3,360.9L614.4,362.7L613.4,364.4L612.2,364.2L611.8,362.3ZM649.6,353.2L651.0,352.6L652.6,351.1L653.9,349.1L654.5,346.9L654.0,346.9L653.0,349.1L651.6,351.1L650.4,352.3L649.5,352.9ZM487.0,360.3L488.7,359.1L489.9,357.8L492.0,358.1L493.1,359.9L493.2,360.6L491.2,360.6L489.5,360.1L488.3,360.5ZM490.5,366.8L491.7,366.8L491.9,364.8L492.6,362.4L493.0,361.6L492.0,361.6L490.8,362.7L490.5,364.8ZM493.3,361.5L495.3,361.3L497.0,362.4L496.6,363.4L495.6,364.1L495.0,365.5L494.1,364.4L494.3,362.7ZM494.2,367.2L495.8,367.5L497.8,366.0L497.8,365.6L496.2,366.0L494.5,366.6ZM497.2,365.1L499.5,365.1L500.2,364.1L499.1,364.1L497.4,364.5ZM481.2,350.3L482.2,349.9L483.3,354.1L482.9,355.0L481.8,352.6ZM466.3,338.2L468.8,338.2L471.3,335.3L472.5,335.3L470.4,337.7L467.9,338.6ZM460.9,329.3L463.8,331.2L465.5,328.8L464.2,327.5L462.1,327.8ZM589.8,417.6L591.2,416.7L592.0,417.6L591.6,419.2L590.4,420.1L589.8,419.0ZM588.3,339.9L590.6,339.6L590.4,337.9L589.1,337.0L588.3,338.2ZM624.4,361.9L625.2,360.3L627.3,360.2L629.0,360.5L627.3,360.9L625.6,361.3Z"/></g>
<text x="86.00" y="302.40" font-size="14.60" fill="#dc2d92" font-weight="700" textLength="24.69" lengthAdjust="spacingAndGlyphs" >2%</text>
<text x="86.0" y="315.7" font-size="9.65" fill="#fff">西北地区</text>
<text x="86.60" y="328.00" font-size="9.60" fill="#fff" letter-spacing="0.273" >Northwest</text>
<polyline points="82.4,332.4 143.6,332.4 164.0,353.4" fill="none" stroke="#dc2d92" stroke-opacity="0.66" stroke-width="1.1"/>
<circle cx="164" cy="353.4" r="6.2" fill="#dc2d92" fill-opacity="0.30"/>
<circle cx="164" cy="353.4" r="4.8" fill="#dc2d92" fill-opacity="0.22"/>
<circle cx="164" cy="353.4" r="3.3" fill="#dc2d92"/>
<text x="187.00" y="319.40" font-size="14.60" fill="#dc2d92" font-weight="700" textLength="24.69" lengthAdjust="spacingAndGlyphs" >7%</text>
<text x="187.0" y="332.7" font-size="9.65" fill="#fff">华北地区</text>
<text x="229.00" y="332.60" font-size="9.60" fill="#fff" letter-spacing="0.256" >North</text>
<polyline points="187.0,338.0 259.6,338.0 281.4,359.4" fill="none" stroke="#dc2d92" stroke-opacity="0.66" stroke-width="1.1"/>
<circle cx="281.4" cy="359.4" r="6.2" fill="#dc2d92" fill-opacity="0.30"/>
<circle cx="281.4" cy="359.4" r="4.8" fill="#dc2d92" fill-opacity="0.22"/>
<circle cx="281.4" cy="359.4" r="3.3" fill="#dc2d92"/>
<text x="346.00" y="281.60" font-size="14.60" fill="#dc2d92" font-weight="700" textLength="24.69" lengthAdjust="spacingAndGlyphs" >3%</text>
<text x="346.0" y="294.9" font-size="9.65" fill="#fff">东北地区</text>
<text x="346.60" y="307.20" font-size="9.60" fill="#fff" letter-spacing="0.322" >Northeast</text>
<polyline points="394.0,310.4 338.0,310.4 316.6,332.0" fill="none" stroke="#dc2d92" stroke-opacity="0.66" stroke-width="1.1"/>
<circle cx="316.6" cy="332" r="6.2" fill="#dc2d92" fill-opacity="0.30"/>
<circle cx="316.6" cy="332" r="4.8" fill="#dc2d92" fill-opacity="0.22"/>
<circle cx="316.6" cy="332" r="3.3" fill="#dc2d92"/>
<text x="317.80" y="372.20" font-size="14.60" fill="#dc2d92" font-weight="700" letter-spacing="-0.146" >11%</text>
<text x="317.8" y="385.5" font-size="9.65" fill="#fff">华中地区</text>
<text x="359.80" y="385.40" font-size="9.60" fill="#fff" letter-spacing="-0.074" >Central</text>
<polyline points="394.0,390.0 276.0,390.0 254.4,411.4" fill="none" stroke="#dc2d92" stroke-opacity="0.66" stroke-width="1.1"/>
<circle cx="254.4" cy="411.4" r="6.2" fill="#dc2d92" fill-opacity="0.30"/>
<circle cx="254.4" cy="411.4" r="4.8" fill="#dc2d92" fill-opacity="0.22"/>
<circle cx="254.4" cy="411.4" r="3.3" fill="#dc2d92"/>
<text x="330.00" y="416.20" font-size="14.60" fill="#dc2d92" font-weight="700" textLength="32.44" lengthAdjust="spacingAndGlyphs" >22%</text>
<text x="330.0" y="429.5" font-size="9.65" fill="#fff">华东地区</text>
<text x="372.00" y="429.40" font-size="9.60" fill="#fff" letter-spacing="-0.236" >East</text>
<polyline points="394.0,434.0 330.0,434.0 308.0,412.6" fill="none" stroke="#dc2d92" stroke-opacity="0.66" stroke-width="1.1"/>
<circle cx="308" cy="412.6" r="6.2" fill="#dc2d92" fill-opacity="0.30"/>
<circle cx="308" cy="412.6" r="4.8" fill="#dc2d92" fill-opacity="0.22"/>
<circle cx="308" cy="412.6" r="3.3" fill="#dc2d92"/>
<text x="323.80" y="464.20" font-size="14.60" fill="#dc2d92" font-weight="700" textLength="31.85" lengthAdjust="spacingAndGlyphs" >53%</text>
<text x="323.8" y="477.5" font-size="9.65" fill="#fff">华南地区</text>
<text x="365.80" y="477.40" font-size="9.60" fill="#fff" letter-spacing="-0.022" >South</text>
<polyline points="394.0,483.0 274.0,483.0 252.4,461.4" fill="none" stroke="#dc2d92" stroke-opacity="0.66" stroke-width="1.1"/>
<circle cx="252.4" cy="461.4" r="6.2" fill="#dc2d92" fill-opacity="0.30"/>
<circle cx="252.4" cy="461.4" r="4.8" fill="#dc2d92" fill-opacity="0.22"/>
<circle cx="252.4" cy="461.4" r="3.3" fill="#dc2d92"/>
<text x="86.00" y="426.40" font-size="14.60" fill="#dc2d92" font-weight="700" textLength="24.69" lengthAdjust="spacingAndGlyphs" >3%</text>
<text x="86.0" y="439.7" font-size="9.65" fill="#fff">西南地区</text>
<text x="86.60" y="452.00" font-size="9.60" fill="#fff" letter-spacing="0.147" >Southwest</text>
<polyline points="82.4,456.4 145.0,456.4 181.0,421.0" fill="none" stroke="#dc2d92" stroke-opacity="0.66" stroke-width="1.1"/>
<circle cx="181" cy="421" r="6.2" fill="#dc2d92" fill-opacity="0.30"/>
<circle cx="181" cy="421" r="4.8" fill="#dc2d92" fill-opacity="0.22"/>
<circle cx="181" cy="421" r="3.3" fill="#dc2d92"/>
<text x="171.7" y="514.3" font-size="15.1" font-weight="700" fill="#fff">国内地区分类</text>
<text x="217.73" y="533.60" font-size="13.00" fill="#fff" text-anchor="middle" letter-spacing="0.459" >By Geographical Origins</text>
<text x="512.8" y="514.3" font-size="15.1" font-weight="700" fill="#fff">海外观众地区分类</text>
<text x="573.30" y="533.60" font-size="13.00" fill="#fff" text-anchor="middle" letter-spacing="0.599" >International Visitors Breakdown</text>
<path fill="#dc2d92" d="M456.4,338 H488.4 V356.8 L472.4,366.0 L456.4,356.8 Z"/>
<path fill="none" stroke="#dc2d92" stroke-width="0.8" d="M456.4,359.1 L472.4,368.3 L488.4,359.1"/>
<text x="472.28" y="354.00" font-size="10.10" fill="#fff" text-anchor="middle" letter-spacing="-0.230" >7.8%</text>
<text x="458.0" y="333.6" font-size="9.6" font-weight="700" fill="#dc2d92">北美洲</text>
<text x="472.28" y="320.80" font-size="8.20" fill="#dc2d92" text-anchor="middle" fill-opacity="0.8" letter-spacing="-0.234" >North America</text>
<path fill="#dc2d92" d="M558.4,328.0 H590.4 V346.8 L574.4,356.0 L558.4,346.8 Z"/>
<path fill="none" stroke="#dc2d92" stroke-width="0.8" d="M558.4,349.1 L574.4,358.3 L590.4,349.1"/>
<text x="574.29" y="345.00" font-size="10.10" fill="#fff" text-anchor="middle" letter-spacing="-0.215" >23.1%</text>
<text x="564.8" y="323.6" font-size="9.6" font-weight="700" fill="#dc2d92">欧洲</text>
<text x="574.12" y="310.80" font-size="8.20" fill="#dc2d92" text-anchor="middle" fill-opacity="0.8" letter-spacing="-0.568" >Europe</text>
<path fill="#dc2d92" d="M649,328.4 H681 V347.2 L665,356.4 L649,347.2 Z"/>
<path fill="none" stroke="#dc2d92" stroke-width="0.8" d="M649,349.5 L665,358.7 L681,349.5"/>
<text x="664.89" y="344.40" font-size="10.10" fill="#fff" text-anchor="middle" letter-spacing="-0.215" >55.4%</text>
<text x="655.4" y="324.0" font-size="9.6" font-weight="700" fill="#dc2d92">亚洲</text>
<text x="665.00" y="311.20" font-size="8.20" fill="#dc2d92" text-anchor="middle" fill-opacity="0.8" textLength="13.60" lengthAdjust="spacingAndGlyphs" >Asia</text>
<path fill="#dc2d92" d="M499.29999999999995,399.2 H531.3 V418.0 L515.3,427.2 L499.29999999999995,418.0 Z"/>
<path fill="none" stroke="#dc2d92" stroke-width="0.8" d="M499.29999999999995,420.3 L515.3,429.5 L531.3,420.3"/>
<text x="515.18" y="415.20" font-size="10.10" fill="#fff" text-anchor="middle" letter-spacing="-0.230" >7.5%</text>
<text x="500.9" y="394.8" font-size="9.6" font-weight="700" fill="#dc2d92">南美洲</text>
<text x="515.14" y="382.00" font-size="8.20" fill="#dc2d92" text-anchor="middle" fill-opacity="0.8" letter-spacing="-0.315" >South America</text>
<path fill="#dc2d92" d="M568,415 H600 V433.8 L584,443.0 L568,433.8 Z"/>
<path fill="none" stroke="#dc2d92" stroke-width="0.8" d="M568,436.1 L584,445.3 L600,436.1"/>
<text x="583.88" y="431.00" font-size="10.10" fill="#fff" text-anchor="middle" letter-spacing="-0.230" >1.3%</text>
<text x="574.4" y="410.6" font-size="9.6" font-weight="700" fill="#dc2d92">非洲</text>
<text x="583.82" y="397.80" font-size="8.20" fill="#dc2d92" text-anchor="middle" fill-opacity="0.8" letter-spacing="-0.352" >Africa</text>
<path fill="#dc2d92" d="M658.7,416 H690.7 V434.8 L674.7,444.0 L658.7,434.8 Z"/>
<path fill="none" stroke="#dc2d92" stroke-width="0.8" d="M658.7,437.1 L674.7,446.3 L690.7,437.1"/>
<text x="674.58" y="432.00" font-size="10.10" fill="#fff" text-anchor="middle" letter-spacing="-0.230" >7.8%</text>
<text x="660.3" y="411.6" font-size="9.6" font-weight="700" fill="#dc2d92">大洋洲</text>
<text x="674.49" y="398.80" font-size="8.20" fill="#dc2d92" text-anchor="middle" fill-opacity="0.8" letter-spacing="-0.424" >Oceania</text>
<rect x="138" y="648.25" width="569" height="20" fill="#6dcff6"/>
<rect x="138" y="648.25" width="340.75" height="20" fill="#dc2d92"/>
<text x="132.70" y="663.65" font-size="12.70" fill="#fff" font-weight="700" text-anchor="end" textLength="42.13" lengthAdjust="spacingAndGlyphs" >28.4%</text>
<text x="143.6" y="663.55" font-size="11.95" fill="#fff" letter-spacing="0.05">光电</text>
<text x="167.90" y="663.25" font-size="11.50" fill="#fff" >/</text>
<text x="171.4" y="663.55" font-size="11.95" fill="#fff" letter-spacing="0.05">电子</text>
<text x="195.70" y="663.25" font-size="11.50" fill="#fff" >/</text>
<text x="199.19" y="663.55" font-size="11.95" fill="#fff" letter-spacing="0.05">通信</text>
<text x="227.00" y="663.25" font-size="11.50" fill="#fff" letter-spacing="0.483" >Optoelectronics/Electronics/Communication</text>
<rect x="138" y="675.25" width="569" height="20" fill="#6dcff6"/>
<rect x="138" y="675.25" width="257.5" height="20" fill="#dc2d92"/>
<text x="132.70" y="690.65" font-size="12.70" fill="#fff" font-weight="700" text-anchor="end" textLength="42.13" lengthAdjust="spacingAndGlyphs" >26.2%</text>
<text x="143.6" y="690.55" font-size="11.95" fill="#fff" letter-spacing="0.05">汽车</text>
<text x="170.75" y="690.25" font-size="11.50" fill="#fff" letter-spacing="0.110" >Car</text>
<rect x="138" y="702.25" width="569" height="20" fill="#6dcff6"/>
<rect x="138" y="702.25" width="150.75" height="20" fill="#dc2d92"/>
<text x="132.70" y="717.65" font-size="12.70" fill="#fff" font-weight="700" text-anchor="end" textLength="42.13" lengthAdjust="spacingAndGlyphs" >22.5%</text>
<text x="143.6" y="717.55" font-size="11.95" fill="#fff" letter-spacing="0.05">光伏</text>
<text x="167.90" y="717.25" font-size="11.50" fill="#fff" >/</text>
<text x="171.4" y="717.55" font-size="11.95" fill="#fff" letter-spacing="0.05">锂电池</text>
<text x="211.25" y="717.25" font-size="11.50" fill="#fff" letter-spacing="0.558" >Photovoltaic/lithium battery</text>
<rect x="138" y="729.25" width="569" height="20" fill="#6dcff6"/>
<rect x="138" y="729.25" width="131.25" height="20" fill="#dc2d92"/>
<text x="132.70" y="744.65" font-size="12.70" fill="#fff" font-weight="700" text-anchor="end" textLength="42.13" lengthAdjust="spacingAndGlyphs" >20.8%</text>
<text x="143.6" y="744.55" font-size="11.95" fill="#fff" letter-spacing="0.05">印刷包装</text>
<text x="195.00" y="744.25" font-size="11.50" fill="#fff" letter-spacing="0.398" >Printing &#160;Packaging</text>
<rect x="138" y="756.25" width="569" height="20" fill="#6dcff6"/>
<rect x="138" y="756.25" width="123.25" height="20" fill="#dc2d92"/>
<text x="132.70" y="771.65" font-size="12.70" fill="#fff" font-weight="700" text-anchor="end" textLength="42.13" lengthAdjust="spacingAndGlyphs" >13.8%</text>
<text x="143.6" y="771.55" font-size="11.95" fill="#fff" letter-spacing="0.05">模切</text>
<text x="167.90" y="771.25" font-size="11.50" fill="#fff" >/</text>
<text x="171.4" y="771.55" font-size="11.95" fill="#fff" letter-spacing="0.05">胶粘带</text>
<text x="211.25" y="771.25" font-size="11.50" fill="#fff" letter-spacing="0.354" >Die cutting/Adhesive Tape</text>
<rect x="138" y="783.25" width="569" height="20" fill="#6dcff6"/>
<rect x="138" y="783.25" width="89.5" height="20" fill="#dc2d92"/>
<text x="132.70" y="798.65" font-size="12.70" fill="#fff" font-weight="700" text-anchor="end" textLength="42.13" lengthAdjust="spacingAndGlyphs" >11.4%</text>
<text x="143.90" y="798.25" font-size="11.50" fill="#fff" >3C/</text>
<text x="162.1" y="798.55" font-size="11.95" fill="#fff" letter-spacing="0.05">家用电器</text>
<text x="212.50" y="798.25" font-size="11.50" fill="#fff" letter-spacing="0.417" >3C/Household Appliances</text>
<rect x="138" y="810.25" width="569" height="20" fill="#6dcff6"/>
<rect x="138" y="810.25" width="82.5" height="20" fill="#dc2d92"/>
<text x="132.70" y="825.65" font-size="12.70" fill="#fff" font-weight="700" text-anchor="end" textLength="42.13" lengthAdjust="spacingAndGlyphs" >10.6%</text>
<text x="143.6" y="825.55" font-size="11.95" fill="#fff" letter-spacing="0.05">医疗</text>
<text x="170.75" y="825.25" font-size="11.50" fill="#fff" letter-spacing="0.517" >Medical Treatment</text>
<rect x="138" y="837.25" width="569" height="20" fill="#6dcff6"/>
<rect x="138" y="837.25" width="74.5" height="20" fill="#dc2d92"/>
<text x="132.70" y="852.65" font-size="12.70" fill="#fff" font-weight="700" text-anchor="end" textLength="33.87" lengthAdjust="spacingAndGlyphs" >7.3%</text>
<text x="143.6" y="852.55" font-size="11.95" fill="#fff" letter-spacing="0.05">航空航天</text>
<text x="195.00" y="852.25" font-size="11.50" fill="#fff" letter-spacing="0.512" >Aviation</text>
<rect x="138" y="864.25" width="569" height="20" fill="#6dcff6"/>
<rect x="138" y="864.25" width="62.75" height="20" fill="#dc2d92"/>
<text x="132.70" y="879.65" font-size="12.70" fill="#fff" font-weight="700" text-anchor="end" textLength="33.87" lengthAdjust="spacingAndGlyphs" >6.2%</text>
<text x="143.6" y="879.55" font-size="11.95" fill="#fff" letter-spacing="0.05">轨道交通</text>
<text x="195.00" y="879.25" font-size="11.50" fill="#fff" letter-spacing="0.168" >Rail Transit</text>
<rect x="138" y="891.25" width="569" height="20" fill="#6dcff6"/>
<rect x="138" y="891.25" width="45.25" height="20" fill="#dc2d92"/>
<text x="132.70" y="906.65" font-size="12.70" fill="#fff" font-weight="700" text-anchor="end" textLength="33.87" lengthAdjust="spacingAndGlyphs" >5.1%</text>
<text x="143.6" y="906.55" font-size="11.95" fill="#fff" letter-spacing="0.05">建材家居</text>
<text x="195.00" y="906.25" font-size="11.50" fill="#fff" letter-spacing="0.470" >Building Materials</text>
<rect x="138" y="918.25" width="569" height="20" fill="#6dcff6"/>
<rect x="138" y="918.25" width="26.25" height="20" fill="#dc2d92"/>
<text x="132.70" y="933.65" font-size="12.70" fill="#fff" font-weight="700" text-anchor="end" textLength="33.87" lengthAdjust="spacingAndGlyphs" >2.3%</text>
<text x="143.6" y="933.55" font-size="11.95" fill="#fff" letter-spacing="0.05">其他行业</text>
<text x="195.00" y="933.25" font-size="11.50" fill="#fff" letter-spacing="0.422" >Other industries</text>
<g transform="translate(0,1061.7) skewX(-7.47) translate(0,-1061.7)"><rect x="415.7" y="1004.7" width="190.8" height="57.0" rx="6" fill="none" stroke="#dc2d92" stroke-width="2.3"/></g>
<text id="sl1" transform="translate(444.3,1048.5) skewX(-14)" x="0" y="0" font-size="34" fill="#dc2d92" letter-spacing="0.4" font-family="'Liberation Serif','Noto Serif CJK SC',serif">粘合未来</text>
<g transform="translate(0,1117.7) skewX(-7.47) translate(0,-1117.7)"><rect x="452.5" y="1051" width="191.5" height="66.70000000000005" rx="6" fill="#fff" stroke="#00ade9" stroke-width="2.3"/></g>
<text id="sl2" transform="translate(484.8,1103.8) skewX(-14)" x="0" y="0" font-size="34" fill="#00ade9" letter-spacing="0.4" font-family="'Liberation Serif','Noto Serif CJK SC',serif">密封无限</text>
</svg>
</body></html>
